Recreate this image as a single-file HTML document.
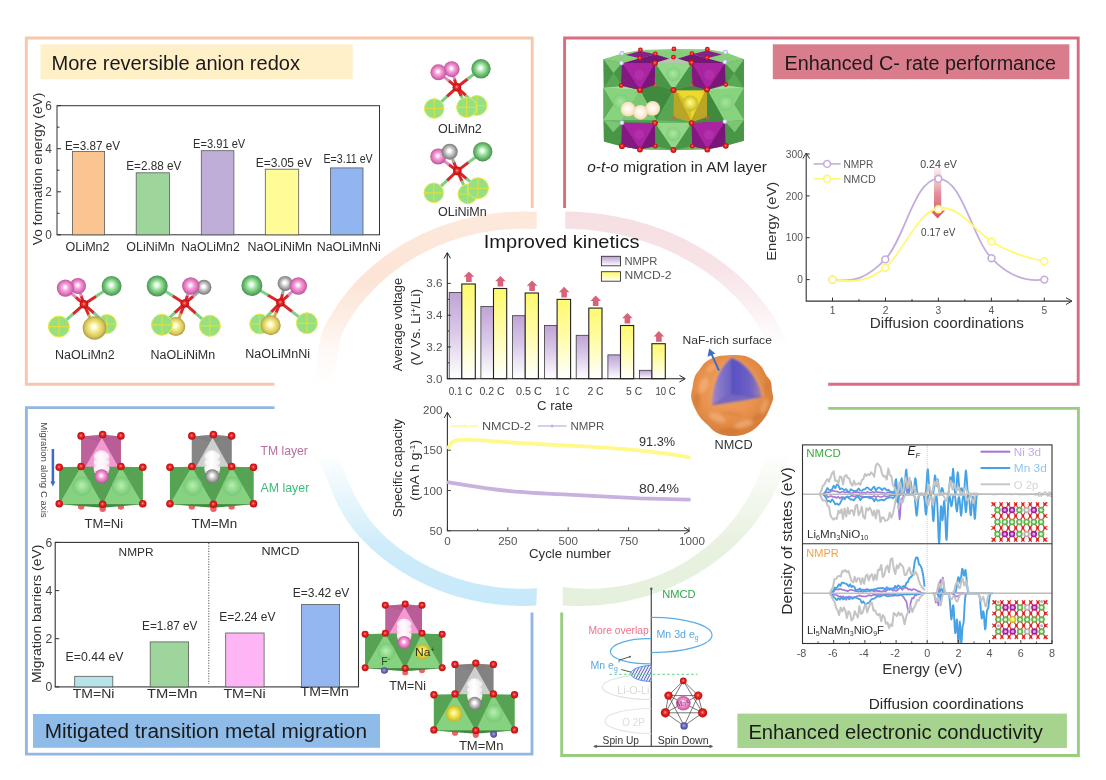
<!DOCTYPE html>
<html><head><meta charset="utf-8"><title>figure</title>
<style>html,body{margin:0;padding:0;background:#fff;}svg{display:block;will-change:transform;}text{font-family:"Liberation Sans",sans-serif;}</style></head>
<body>
<svg width="1106" height="780" viewBox="0 0 1106 780" font-family="'Liberation Sans', sans-serif">
<defs><radialGradient id="gPink" cx="0.5" cy="0.5" r="0.55" fx="0.47" fy="0.44"><stop offset="0" stop-color="#ffffff"/><stop offset="0.12" stop-color="#fff4fb"/><stop offset="0.36" stop-color="#f7a4dc"/><stop offset="0.68" stop-color="#e272ba"/><stop offset="1" stop-color="#a0508a"/></radialGradient><radialGradient id="gGreen" cx="0.5" cy="0.5" r="0.55" fx="0.47" fy="0.44"><stop offset="0" stop-color="#ffffff"/><stop offset="0.12" stop-color="#f2fff2"/><stop offset="0.36" stop-color="#a8e4aa"/><stop offset="0.68" stop-color="#64ba6a"/><stop offset="1" stop-color="#467e4e"/></radialGradient><radialGradient id="gGrey" cx="0.5" cy="0.5" r="0.55" fx="0.47" fy="0.44"><stop offset="0" stop-color="#ffffff"/><stop offset="0.15" stop-color="#ffffff"/><stop offset="0.4" stop-color="#d0d0d0"/><stop offset="0.7" stop-color="#9c9c9c"/><stop offset="1" stop-color="#666666"/></radialGradient><radialGradient id="gGold" cx="0.5" cy="0.5" r="0.55" fx="0.47" fy="0.44"><stop offset="0" stop-color="#ffffff"/><stop offset="0.14" stop-color="#ffffe8"/><stop offset="0.4" stop-color="#f2e884"/><stop offset="0.7" stop-color="#dac85c"/><stop offset="1" stop-color="#968642"/></radialGradient><radialGradient id="gRed" cx="0.5" cy="0.5" r="0.55" fx="0.47" fy="0.44"><stop offset="0" stop-color="#ff9a9a"/><stop offset="0.35" stop-color="#ee2a2a"/><stop offset="1" stop-color="#b00808"/></radialGradient><radialGradient id="gCream" cx="0.5" cy="0.5" r="0.55" fx="0.47" fy="0.44"><stop offset="0" stop-color="#ffffff"/><stop offset="0.5" stop-color="#fdf0dc"/><stop offset="1" stop-color="#f0d4a8"/></radialGradient><radialGradient id="gWhite" cx="0.5" cy="0.5" r="0.55" fx="0.47" fy="0.44"><stop offset="0" stop-color="#ffffff"/><stop offset="0.6" stop-color="#f6eef4"/><stop offset="1" stop-color="#dcc8d8"/></radialGradient><radialGradient id="gWhiteG" cx="0.5" cy="0.5" r="0.55" fx="0.47" fy="0.44"><stop offset="0" stop-color="#ffffff"/><stop offset="0.6" stop-color="#f0f0f0"/><stop offset="1" stop-color="#c8c8c8"/></radialGradient><radialGradient id="gLav" cx="0.5" cy="0.5" r="0.55" fx="0.47" fy="0.44"><stop offset="0" stop-color="#ffffff"/><stop offset="0.5" stop-color="#d8d8f4"/><stop offset="1" stop-color="#9c9cd0"/></radialGradient><radialGradient id="gBlueAt" cx="0.5" cy="0.5" r="0.55" fx="0.47" fy="0.44"><stop offset="0" stop-color="#a8a8e0"/><stop offset="0.5" stop-color="#6868b8"/><stop offset="1" stop-color="#40408c"/></radialGradient><radialGradient id="gYel" cx="0.5" cy="0.5" r="0.55" fx="0.47" fy="0.44"><stop offset="0" stop-color="#ffffc0"/><stop offset="0.4" stop-color="#f0e850"/><stop offset="1" stop-color="#b8a828"/></radialGradient><radialGradient id="gLGreen" cx="0.5" cy="0.5" r="0.55" fx="0.47" fy="0.44"><stop offset="0" stop-color="#c8f4c0"/><stop offset="0.6" stop-color="#8cd888"/><stop offset="1" stop-color="#6cc070"/></radialGradient><linearGradient id="rPeach" gradientUnits="userSpaceOnUse" x1="0" y1="212" x2="0" y2="385"><stop offset="0" stop-color="#fde9dc" stop-opacity="1"/><stop offset="0.4" stop-color="#fce4d6" stop-opacity="1"/><stop offset="0.62" stop-color="#fce4d6" stop-opacity="0.62"/><stop offset="0.8" stop-color="#fce4d6" stop-opacity="0.22"/><stop offset="1" stop-color="#fce4d6" stop-opacity="0"/></linearGradient><linearGradient id="rPink" gradientUnits="userSpaceOnUse" x1="0" y1="212" x2="0" y2="345"><stop offset="0" stop-color="#f6dfe3" stop-opacity="1"/><stop offset="0.4" stop-color="#f7e1e5" stop-opacity="0.95"/><stop offset="0.72" stop-color="#f7e1e5" stop-opacity="0.5"/><stop offset="1" stop-color="#f7e1e5" stop-opacity="0"/></linearGradient><linearGradient id="rBlue" gradientUnits="userSpaceOnUse" x1="0" y1="606" x2="0" y2="452"><stop offset="0" stop-color="#c6e9fa" stop-opacity="1"/><stop offset="0.4" stop-color="#cfecfa" stop-opacity="1"/><stop offset="0.72" stop-color="#d6effb" stop-opacity="0.55"/><stop offset="1" stop-color="#d6effb" stop-opacity="0"/></linearGradient><linearGradient id="rGreen" gradientUnits="userSpaceOnUse" x1="0" y1="606" x2="0" y2="450"><stop offset="0" stop-color="#e5f0dc" stop-opacity="1"/><stop offset="0.4" stop-color="#e7f1df" stop-opacity="0.95"/><stop offset="0.72" stop-color="#e7f1df" stop-opacity="0.5"/><stop offset="1" stop-color="#e7f1df" stop-opacity="0"/></linearGradient><linearGradient id="gArr" x1="0" y1="0" x2="0" y2="1"><stop offset="0" stop-color="#f2c4cc" stop-opacity="0.3"/><stop offset="0.5" stop-color="#e58f9c"/><stop offset="1" stop-color="#d55868"/></linearGradient><linearGradient id="gCol" x1="0" y1="0" x2="1" y2="0"><stop offset="0" stop-color="#f0c4e2"/><stop offset="0.45" stop-color="#fff4fb"/><stop offset="1" stop-color="#eebfdf"/></linearGradient><linearGradient id="gColG" x1="0" y1="0" x2="1" y2="0"><stop offset="0" stop-color="#dcdcdc"/><stop offset="0.45" stop-color="#ffffff"/><stop offset="1" stop-color="#d4d4d4"/></linearGradient><pattern id="hatch" width="2.6" height="2.6" patternUnits="userSpaceOnUse" patternTransform="rotate(-62)"><rect width="2.6" height="2.6" fill="#eef0ff"/><path d="M0 1.3H2.6" stroke="#5a58c8" stroke-width="0.9"/></pattern><linearGradient id="gPurB" x1="0" y1="0" x2="0" y2="1"><stop offset="0" stop-color="#bfa3d6"/><stop offset="0.45" stop-color="#d9c8e8"/><stop offset="1" stop-color="#ffffff"/></linearGradient><linearGradient id="gYelB" x1="0" y1="0" x2="0" y2="1"><stop offset="0" stop-color="#fffa6e"/><stop offset="0.45" stop-color="#fffca6"/><stop offset="1" stop-color="#ffffff"/></linearGradient><radialGradient id="gOrg" cx="0.45" cy="0.42" r="0.62"><stop offset="0" stop-color="#f0a266"/><stop offset="0.55" stop-color="#e9934e"/><stop offset="1" stop-color="#d27a36"/></radialGradient><linearGradient id="gCoreL" gradientUnits="userSpaceOnUse" x1="215" y1="0" x2="320" y2="0"><stop offset="0" stop-color="#b08ab0"/><stop offset="0.3" stop-color="#8d7cc8"/><stop offset="1" stop-color="#6a60c6"/></linearGradient><linearGradient id="gCoreR" gradientUnits="userSpaceOnUse" x1="320" y1="0" x2="485" y2="0"><stop offset="0" stop-color="#574fc4"/><stop offset="0.6" stop-color="#6f62c4"/><stop offset="0.88" stop-color="#9a7cb0"/><stop offset="1" stop-color="#c88c78"/></linearGradient><filter id="blur3" x="-10%" y="-10%" width="120%" height="120%"><feGaussianBlur stdDeviation="4"/></filter><filter id="blur5" x="-10%" y="-10%" width="120%" height="120%"><feGaussianBlur stdDeviation="6"/></filter><filter id="blur6" x="-20%" y="-20%" width="140%" height="140%"><feGaussianBlur stdDeviation="7"/></filter></defs>
<rect width="1106" height="780" fill="#ffffff"/>
<path d="M536.7 211.9L531.6 211.7L526.5 211.6L521.4 211.6L516.3 211.7L511.2 211.9L506.1 212.2L501.0 212.6L495.9 213.2L490.9 213.8L485.8 214.6L480.8 215.4L475.8 216.4L470.8 217.4L465.9 218.6L461.0 219.8L456.1 221.2L451.3 222.7L446.5 224.3L441.7 225.9L437.0 227.7L432.4 229.6L427.7 231.5L423.2 233.6L418.7 235.7L414.2 238.0L409.8 240.3L405.5 242.8L401.2 245.3L397.0 247.9L392.9 250.6L388.8 253.4L384.8 256.2L380.9 259.2L377.1 262.2L373.3 265.3L369.7 268.5L366.1 271.8L362.6 275.1L359.2 278.5L355.8 282.0L352.6 285.6L349.5 289.2L346.4 292.9L343.5 296.6L340.6 300.4L337.8 304.3L335.2 308.2L332.6 312.2L330.2 316.2L327.8 320.3L325.6 324.4L323.6 328.6L322.0 332.8L320.8 337.0L319.8 341.3L319.1 345.6L318.5 350.0L318.1 354.4L317.6 358.8L317.0 363.3L316.2 367.8L315.3 372.3L314.4 376.8L313.6 381.3L313.0 385.9L312.4 390.4L312.0 395.0L311.7 399.6L311.6 404.2L311.5 408.8L330.5 408.8L330.6 404.5L330.7 400.3L331.0 396.1L331.4 391.9L331.9 387.7L332.5 383.5L333.2 379.4L334.0 375.2L334.9 371.1L335.9 367.0L336.6 362.9L337.2 358.8L337.8 354.8L338.4 350.8L339.0 346.8L339.8 342.9L340.7 339.0L341.9 335.1L343.3 331.3L345.1 327.5L347.1 323.7L349.4 320.1L351.8 316.4L354.2 312.8L356.7 309.3L359.4 305.8L362.1 302.4L364.9 299.0L367.8 295.7L370.8 292.4L373.8 289.2L377.0 286.1L380.2 283.1L383.5 280.1L386.9 277.2L390.3 274.3L393.8 271.6L397.4 268.9L401.1 266.3L404.8 263.7L408.6 261.3L412.5 258.9L416.4 256.6L420.4 254.4L424.4 252.3L428.5 250.2L432.7 248.3L436.8 246.4L441.1 244.6L445.4 242.9L449.7 241.3L454.1 239.8L458.5 238.4L462.9 237.1L467.4 235.9L471.9 234.8L476.4 233.7L481.0 232.8L485.5 232.0L490.1 231.2L494.8 230.6L499.4 230.0L504.0 229.6L508.7 229.2L513.4 229.0L518.0 228.8L522.7 228.8L527.4 228.8L532.0 228.9L536.7 229.2Z" fill="url(#rPeach)"/>
<path d="M536.3 605.6L531.2 605.8L526.1 605.9L521.0 605.9L515.9 605.8L510.8 605.6L505.7 605.3L500.7 604.8L495.6 604.3L490.6 603.6L485.6 602.9L480.6 602.0L475.7 601.1L470.8 600.0L465.9 598.8L461.0 597.6L456.2 596.2L451.4 594.7L446.7 593.2L442.0 591.5L437.4 589.7L432.8 587.8L428.3 585.9L423.8 583.8L419.4 581.6L415.0 579.4L410.7 577.1L406.5 574.6L402.3 572.1L398.2 569.5L394.2 566.8L390.3 564.0L386.4 561.1L382.6 558.2L378.9 555.2L375.3 552.0L371.7 548.9L368.3 545.6L364.9 542.3L361.6 538.8L358.3 535.4L355.3 531.8L352.4 528.2L349.7 524.5L347.1 520.8L344.7 517.0L342.4 513.1L340.3 509.2L338.2 505.2L336.3 501.2L334.4 497.1L332.6 493.0L330.9 488.9L329.1 484.7L327.4 480.4L325.7 476.1L324.0 471.8L322.4 467.4L321.0 463.0L319.6 458.6L318.4 454.2L317.3 449.7L316.3 445.2L315.4 440.7L314.6 436.2L314.0 431.6L313.4 427.1L313.0 422.5L312.7 417.9L312.6 413.3L312.5 408.8L331.5 408.8L331.6 413.0L331.7 417.2L332.0 421.4L332.4 425.6L332.9 429.8L333.5 433.9L334.2 438.1L335.0 442.2L335.9 446.4L336.9 450.5L338.1 454.6L339.3 458.6L340.7 462.6L342.1 466.7L343.7 470.6L345.3 474.6L347.0 478.5L348.8 482.3L350.5 486.1L352.3 489.9L354.1 493.7L356.0 497.4L357.9 501.0L359.9 504.6L362.0 508.1L364.1 511.6L366.4 515.0L368.8 518.4L371.3 521.7L374.0 525.0L376.8 528.1L379.7 531.3L382.7 534.3L385.9 537.3L389.2 540.2L392.6 543.0L396.0 545.8L399.5 548.5L403.0 551.1L406.7 553.7L410.4 556.1L414.1 558.5L417.9 560.8L421.8 563.0L425.8 565.1L429.8 567.2L433.8 569.1L437.9 571.0L442.1 572.8L446.3 574.5L450.6 576.1L454.9 577.6L459.2 579.0L463.6 580.3L468.0 581.5L472.5 582.7L476.9 583.7L481.5 584.6L486.0 585.5L490.6 586.2L495.1 586.9L499.7 587.4L504.4 587.9L509.0 588.3L513.7 588.5L518.3 588.7L523.0 588.7L527.6 588.7L532.3 588.6L537.0 588.3Z" fill="url(#rBlue)"/>
<path d="M565.2 211.6L570.5 211.6L575.8 211.8L581.1 212.1L586.4 212.5L591.7 213.0L596.9 213.6L602.2 214.2L607.4 215.0L612.6 215.9L617.8 216.8L622.9 217.9L628.1 219.1L633.2 220.3L638.2 221.7L643.2 223.1L648.2 224.6L653.1 226.2L658.0 228.0L662.9 229.8L667.7 231.6L672.4 233.6L677.1 235.7L681.7 237.8L686.3 240.1L690.8 242.4L695.3 244.8L699.6 247.3L704.0 249.9L708.2 252.5L712.4 255.2L716.5 258.0L720.5 260.9L724.4 263.8L728.3 266.9L732.1 270.0L735.8 273.1L739.4 276.3L742.9 279.6L746.3 283.0L749.7 286.4L752.9 289.9L756.1 293.4L759.1 297.0L762.1 300.7L764.9 304.4L767.7 308.1L770.4 312.0L772.9 315.8L775.4 319.7L777.7 323.7L779.9 327.6L782.1 331.7L784.1 335.7L786.0 339.8L787.8 344.0L789.5 348.2L791.1 352.4L792.5 356.6L793.9 360.8L795.1 365.1L796.2 369.4L797.2 373.7L798.1 378.1L798.9 382.4L799.5 386.8L800.1 391.2L800.5 395.6L800.8 400.0L800.9 404.4L801.0 408.8L783.0 408.8L782.9 404.7L782.8 400.7L782.5 396.7L782.1 392.7L781.6 388.7L781.0 384.7L780.3 380.8L779.5 376.8L778.6 372.9L777.6 368.9L776.4 365.0L775.2 361.2L773.8 357.3L772.4 353.5L770.8 349.7L769.1 345.9L767.4 342.1L765.5 338.4L763.6 334.8L761.5 331.1L759.3 327.5L757.1 324.0L754.7 320.4L752.2 317.0L749.7 313.5L747.1 310.1L744.3 306.8L741.5 303.5L738.6 300.3L735.6 297.1L732.5 294.0L729.3 290.9L726.1 287.9L722.8 285.0L719.3 282.1L715.8 279.3L712.3 276.5L708.6 273.8L704.9 271.2L701.1 268.7L697.3 266.2L693.4 263.8L689.4 261.4L685.3 259.2L681.2 257.0L677.1 254.8L672.9 252.8L668.6 250.8L664.2 248.9L659.9 247.1L655.4 245.4L651.0 243.8L646.4 242.2L641.9 240.7L637.3 239.3L632.7 238.0L628.0 236.8L623.3 235.6L618.6 234.6L613.8 233.6L609.0 232.7L604.2 231.9L599.4 231.2L594.5 230.6L589.7 230.1L584.8 229.6L579.9 229.3L575.0 229.0L570.1 228.8L565.2 228.8Z" fill="url(#rPink)"/>
<path d="M562.7 605.4L567.8 605.7L572.8 605.9L577.9 605.9L583.0 605.9L588.1 605.8L593.2 605.5L598.2 605.2L603.3 604.7L608.3 604.1L613.3 603.4L618.3 602.7L623.3 601.8L628.3 600.7L633.2 599.6L638.1 598.4L643.0 597.1L647.8 595.7L652.6 594.1L657.4 592.5L662.1 590.8L666.8 588.9L671.4 587.0L675.9 585.0L680.4 582.8L684.9 580.6L689.3 578.3L693.6 575.9L697.9 573.4L702.1 570.8L706.3 568.1L710.3 565.3L714.3 562.4L718.2 559.5L722.1 556.5L725.9 553.4L729.5 550.2L733.1 546.9L736.7 543.5L740.1 540.1L743.4 536.6L746.7 533.1L749.8 529.4L752.9 525.7L755.9 522.0L758.7 518.1L761.5 514.2L764.2 510.3L766.7 506.3L769.2 502.2L771.5 498.1L773.8 494.0L775.9 489.8L778.0 485.5L779.9 481.2L781.7 476.9L783.4 472.5L785.0 468.1L786.5 463.7L787.8 459.2L789.1 454.7L790.2 450.2L791.2 445.6L792.1 441.1L792.9 436.5L793.5 431.9L794.0 427.3L794.5 422.7L794.8 418.0L794.9 413.4L795.0 408.8L772.0 408.8L771.9 413.2L771.8 417.6L771.5 422.0L771.1 426.4L770.6 430.7L770.0 435.1L769.3 439.5L768.5 443.8L767.6 448.1L766.5 452.4L765.4 456.7L764.1 460.9L762.8 465.1L761.3 469.3L759.8 473.4L758.1 477.5L756.4 481.6L754.5 485.6L752.5 489.5L750.5 493.5L748.3 497.3L746.1 501.1L743.7 504.9L741.3 508.6L738.7 512.2L736.1 515.8L733.4 519.3L730.6 522.8L727.7 526.1L724.8 529.5L721.7 532.7L718.6 535.9L715.4 538.9L712.1 541.9L708.7 544.9L705.3 547.7L701.8 550.5L698.3 553.1L694.6 555.7L690.9 558.2L687.2 560.7L683.4 563.0L679.5 565.2L675.6 567.3L671.6 569.4L667.6 571.3L663.5 573.2L659.4 574.9L655.2 576.6L651.0 578.1L646.8 579.5L642.5 580.9L638.2 582.1L633.9 583.3L629.5 584.3L625.1 585.2L620.7 586.0L616.3 586.7L611.9 587.3L607.4 587.8L602.9 588.2L598.5 588.5L594.0 588.7L589.5 588.7L585.0 588.7L580.5 588.6L576.1 588.3L571.6 587.9L567.1 587.5L562.7 586.9Z" fill="url(#rGreen)"/>
<path d="M532.2 208V38H26.3V384.2H274.5" fill="none" stroke="#f6c7ab" stroke-width="2.9"/>
<path d="M564.6 208V38H1078.2V384.2H828.2" fill="none" stroke="#d96d80" stroke-width="2.9"/>
<path d="M274.5 407.6H26.4V754.1H532V612.6" fill="none" stroke="#92b7e2" stroke-width="2.9"/>
<path d="M828.2 408.4H1078.4V755.5H561.7V612.6" fill="none" stroke="#98cd80" stroke-width="2.9"/>
<rect x="40.5" y="44.5" width="312.2" height="34.8" fill="#fff0c8"/>
<text x="51.5" y="69.6" font-size="19.5" fill="#1a1a1a" textLength="248.5" lengthAdjust="spacingAndGlyphs" >More reversible anion redox</text>
<rect x="772.8" y="44.3" width="296.6" height="34.9" fill="#d97c8b"/>
<text x="784.5" y="70.3" font-size="19.5" fill="#1a1a1a" textLength="271.5" lengthAdjust="spacingAndGlyphs" >Enhanced C- rate performance</text>
<rect x="33" y="714" width="347" height="33.8" fill="#8fbbe8"/>
<text x="44.7" y="738.1" font-size="19.5" fill="#1a1a1a" textLength="322.3" lengthAdjust="spacingAndGlyphs" >Mitigated transition metal migration</text>
<rect x="737.4" y="713.6" width="329.5" height="34.4" fill="#a6d48f"/>
<text x="748.4" y="738.7" font-size="19.5" fill="#1a1a1a" textLength="294.4" lengthAdjust="spacingAndGlyphs" >Enhanced electronic conductivity</text>
<rect x="57.0" y="105.7" width="322.5" height="129.10000000000002" fill="none" stroke="#333333" stroke-width="1"/>
<path d="M57.0 234.8h4M57.0 213.3h2.5M57.0 191.8h4M57.0 170.2h2.5M57.0 148.7h4M57.0 127.2h2.5M57.0 105.7h4" stroke="#333333" stroke-width="1" fill="none"/>
<text x="45.2" y="239.1" font-size="12.4" fill="#444" textLength="6.6" lengthAdjust="spacingAndGlyphs" >0</text>
<text x="45.2" y="196.1" font-size="12.4" fill="#444" textLength="6.6" lengthAdjust="spacingAndGlyphs" >2</text>
<text x="45.2" y="153.0" font-size="12.4" fill="#444" textLength="6.6" lengthAdjust="spacingAndGlyphs" >4</text>
<text x="45.2" y="110.0" font-size="12.4" fill="#444" textLength="6.6" lengthAdjust="spacingAndGlyphs" >6</text>
<text transform="translate(41.6,169.0) rotate(-90)" font-size="13.3" fill="#2e2e2e" text-anchor="middle" textLength="152.5" lengthAdjust="spacingAndGlyphs" >Vo formation energy (eV)</text>
<rect x="72.4" y="151.5" width="32.2" height="83.3" fill="#fbc591" stroke="#5a5a5a" stroke-width="0.8"/>
<rect x="136.2" y="172.8" width="33.2" height="62.0" fill="#9dd59b" stroke="#5a5a5a" stroke-width="0.8"/>
<rect x="201.3" y="150.7" width="32.6" height="84.1" fill="#bfaed7" stroke="#5a5a5a" stroke-width="0.8"/>
<rect x="265.3" y="169.2" width="33.4" height="65.6" fill="#fffb97" stroke="#5a5a5a" stroke-width="0.8"/>
<rect x="330.4" y="167.9" width="32.6" height="66.9" fill="#90b5f1" stroke="#5a5a5a" stroke-width="0.8"/>
<text x="65.0" y="149.7" font-size="12.6" fill="#2e2e2e" textLength="55.0" lengthAdjust="spacingAndGlyphs" >E=3.87 eV</text>
<text x="126.3" y="170.0" font-size="12.6" fill="#2e2e2e" textLength="55.0" lengthAdjust="spacingAndGlyphs" >E=2.88 eV</text>
<text x="193.0" y="148.0" font-size="12.6" fill="#2e2e2e" textLength="52.3" lengthAdjust="spacingAndGlyphs" >E=3.91 eV</text>
<text x="255.7" y="166.7" font-size="12.6" fill="#2e2e2e" textLength="56.3" lengthAdjust="spacingAndGlyphs" >E=3.05 eV</text>
<text x="323.5" y="163.0" font-size="12.6" fill="#2e2e2e" textLength="49.2" lengthAdjust="spacingAndGlyphs" >E=3.11 eV</text>
<text x="65.6" y="251.3" font-size="12" fill="#2e2e2e" textLength="44.0" lengthAdjust="spacingAndGlyphs" >OLiMn2</text>
<text x="126.3" y="251.3" font-size="12" fill="#2e2e2e" textLength="48.4" lengthAdjust="spacingAndGlyphs" >OLiNiMn</text>
<text x="181.3" y="251.3" font-size="12" fill="#2e2e2e" textLength="58.4" lengthAdjust="spacingAndGlyphs" >NaOLiMn2</text>
<text x="247.6" y="251.3" font-size="12" fill="#2e2e2e" textLength="64.4" lengthAdjust="spacingAndGlyphs" >NaOLiNiMn</text>
<text x="316.7" y="251.3" font-size="12" fill="#2e2e2e" textLength="64.1" lengthAdjust="spacingAndGlyphs" >NaOLiMnNi</text>
<path d="M456.9 87.3L465.5 95.1" stroke="#d8262a" stroke-width="3.0" stroke-linecap="round"/>
<path d="M465.5 95.1L477.0 105.5" stroke="#7fcf86" stroke-width="3.0"/>
<path d="M456.9 87.3L461.1 95.9" stroke="#d8262a" stroke-width="3.0" stroke-linecap="round"/>
<path d="M461.1 95.9L466.6 107.4" stroke="#7fcf86" stroke-width="3.0"/>
<path d="M456.9 87.3L447.1 96.4" stroke="#d8262a" stroke-width="3.0" stroke-linecap="round"/>
<path d="M447.1 96.4L434.2 108.5" stroke="#7fcf86" stroke-width="3.0"/>
<path d="M456.9 87.3L454.6 79.5" stroke="#d8262a" stroke-width="3.0" stroke-linecap="round"/>
<path d="M454.6 79.5L451.6 69.2" stroke="#e48cc4" stroke-width="3.0"/>
<path d="M456.9 87.3L448.9 80.8" stroke="#d8262a" stroke-width="3.0" stroke-linecap="round"/>
<path d="M448.9 80.8L438.4 72.3" stroke="#e48cc4" stroke-width="3.0"/>
<path d="M456.9 87.3L467.3 79.3" stroke="#d8262a" stroke-width="3.0" stroke-linecap="round"/>
<path d="M467.3 79.3L481.0 68.8" stroke="#7fcf86" stroke-width="3.0"/>
<g><circle cx="477.0" cy="105.5" r="10.0" fill="#94e082" stroke="#e8ec4c" stroke-width="1"/><path d="M467.0 105.5H487.0M477.0 95.5V115.5" stroke="#e4de38" stroke-width="1.15" fill="none"/></g>
<g><circle cx="466.6" cy="107.4" r="10.0" fill="#94e082" stroke="#e8ec4c" stroke-width="1"/><path d="M456.6 107.4H476.6M466.6 97.4V117.4" stroke="#e4de38" stroke-width="1.15" fill="none"/></g>
<g><circle cx="434.2" cy="108.5" r="9.8" fill="#94e082" stroke="#e8ec4c" stroke-width="1"/><path d="M424.4 108.5H444.0M434.2 98.7V118.3" stroke="#e4de38" stroke-width="1.15" fill="none"/></g>
<circle cx="451.6" cy="69.2" r="8.0" fill="url(#gPink)"/>
<circle cx="438.4" cy="72.3" r="8.0" fill="url(#gPink)"/>
<circle cx="481.0" cy="68.8" r="9.7" fill="url(#gGreen)"/>
<circle cx="456.9" cy="87.3" r="4.3" fill="url(#gRed)"/>
<text x="438.0" y="133.0" font-size="12" fill="#2e2e2e" textLength="43.8" lengthAdjust="spacingAndGlyphs" >OLiMn2</text>
<path d="M457.3 170.9L461.8 180.8" stroke="#d8262a" stroke-width="3.0" stroke-linecap="round"/>
<path d="M461.8 180.8L467.7 194.0" stroke="#7fcf86" stroke-width="3.0"/>
<path d="M457.3 170.9L466.2 178.3" stroke="#d8262a" stroke-width="3.0" stroke-linecap="round"/>
<path d="M466.2 178.3L478.0 188.2" stroke="#7fcf86" stroke-width="3.0"/>
<path d="M457.3 170.9L447.2 180.3" stroke="#d8262a" stroke-width="3.0" stroke-linecap="round"/>
<path d="M447.2 180.3L433.8 192.8" stroke="#7fcf86" stroke-width="3.0"/>
<path d="M457.3 170.9L449.1 164.7" stroke="#d8262a" stroke-width="3.0" stroke-linecap="round"/>
<path d="M449.1 164.7L438.2 156.5" stroke="#e48cc4" stroke-width="3.0"/>
<path d="M457.3 170.9L454.0 162.6" stroke="#d8262a" stroke-width="3.0" stroke-linecap="round"/>
<path d="M454.0 162.6L449.7 151.7" stroke="#a8a8a8" stroke-width="3.0"/>
<path d="M457.3 170.9L468.2 162.6" stroke="#d8262a" stroke-width="3.0" stroke-linecap="round"/>
<path d="M468.2 162.6L482.7 151.7" stroke="#7fcf86" stroke-width="3.0"/>
<g><circle cx="467.7" cy="194.0" r="9.7" fill="#94e082" stroke="#e8ec4c" stroke-width="1"/><path d="M458.0 194.0H477.4M467.7 184.3V203.7" stroke="#e4de38" stroke-width="1.15" fill="none"/></g>
<g><circle cx="478.0" cy="188.2" r="10.5" fill="#94e082" stroke="#e8ec4c" stroke-width="1"/><path d="M467.5 188.2H488.5M478.0 177.7V198.7" stroke="#e4de38" stroke-width="1.15" fill="none"/></g>
<g><circle cx="433.8" cy="192.8" r="9.8" fill="#94e082" stroke="#e8ec4c" stroke-width="1"/><path d="M424.0 192.8H443.6M433.8 183.0V202.6" stroke="#e4de38" stroke-width="1.15" fill="none"/></g>
<circle cx="438.2" cy="156.5" r="8.0" fill="url(#gPink)"/>
<circle cx="449.7" cy="151.7" r="8.0" fill="url(#gGrey)"/>
<circle cx="482.7" cy="151.7" r="9.7" fill="url(#gGreen)"/>
<circle cx="457.3" cy="170.9" r="4.3" fill="url(#gRed)"/>
<text x="438.0" y="215.8" font-size="12" fill="#2e2e2e" textLength="48.8" lengthAdjust="spacingAndGlyphs" >OLiNiMn</text>
<path d="M84.0 304.3L93.8 312.8" stroke="#d8262a" stroke-width="3.0" stroke-linecap="round"/>
<path d="M93.8 312.8L106.9 324.0" stroke="#7fcf86" stroke-width="3.0"/>
<path d="M84.0 304.3L73.2 313.9" stroke="#d8262a" stroke-width="3.0" stroke-linecap="round"/>
<path d="M73.2 313.9L58.9 326.6" stroke="#7fcf86" stroke-width="3.0"/>
<path d="M84.0 304.3L88.5 314.5" stroke="#d8262a" stroke-width="3.0" stroke-linecap="round"/>
<path d="M88.5 314.5L94.5 328.0" stroke="#c8b450" stroke-width="3.0"/>
<path d="M84.0 304.3L81.4 296.4" stroke="#d8262a" stroke-width="3.0" stroke-linecap="round"/>
<path d="M81.4 296.4L78.0 286.0" stroke="#e48cc4" stroke-width="3.0"/>
<path d="M84.0 304.3L76.0 297.3" stroke="#d8262a" stroke-width="3.0" stroke-linecap="round"/>
<path d="M76.0 297.3L65.4 288.1" stroke="#e48cc4" stroke-width="3.0"/>
<path d="M84.0 304.3L95.9 296.4" stroke="#d8262a" stroke-width="3.0" stroke-linecap="round"/>
<path d="M95.9 296.4L111.6 286.0" stroke="#7fcf86" stroke-width="3.0"/>
<g><circle cx="106.9" cy="324.0" r="9.5" fill="#94e082" stroke="#e8ec4c" stroke-width="1"/><path d="M97.4 324.0H116.4M106.9 314.5V333.5" stroke="#e4de38" stroke-width="1.15" fill="none"/></g>
<g><circle cx="58.9" cy="326.6" r="10.5" fill="#94e082" stroke="#e8ec4c" stroke-width="1"/><path d="M48.4 326.6H69.4M58.9 316.1V337.1" stroke="#e4de38" stroke-width="1.15" fill="none"/></g>
<circle cx="94.5" cy="328.0" r="11.8" fill="url(#gGold)"/>
<circle cx="78.0" cy="286.0" r="8.0" fill="url(#gPink)"/>
<circle cx="65.4" cy="288.1" r="8.6" fill="url(#gPink)"/>
<circle cx="111.6" cy="286.0" r="10.0" fill="url(#gGreen)"/>
<circle cx="84.0" cy="304.3" r="4.3" fill="url(#gRed)"/>
<text x="55.0" y="358.5" font-size="12" fill="#2e2e2e" textLength="59.7" lengthAdjust="spacingAndGlyphs" >NaOLiMn2</text>
<path d="M184.7 303.5L180.9 313.4" stroke="#d8262a" stroke-width="3.0" stroke-linecap="round"/>
<path d="M180.9 313.4L175.8 326.6" stroke="#c8b450" stroke-width="3.0"/>
<path d="M184.7 303.5L174.9 312.7" stroke="#d8262a" stroke-width="3.0" stroke-linecap="round"/>
<path d="M174.9 312.7L161.9 324.8" stroke="#7fcf86" stroke-width="3.0"/>
<path d="M184.7 303.5L195.5 313.1" stroke="#d8262a" stroke-width="3.0" stroke-linecap="round"/>
<path d="M195.5 313.1L209.9 325.8" stroke="#7fcf86" stroke-width="3.0"/>
<path d="M184.7 303.5L193.0 296.5" stroke="#d8262a" stroke-width="3.0" stroke-linecap="round"/>
<path d="M193.0 296.5L203.9 287.3" stroke="#a8a8a8" stroke-width="3.0"/>
<path d="M184.7 303.5L187.3 296.0" stroke="#d8262a" stroke-width="3.0" stroke-linecap="round"/>
<path d="M187.3 296.0L190.8 286.0" stroke="#e48cc4" stroke-width="3.0"/>
<path d="M184.7 303.5L172.9 296.0" stroke="#d8262a" stroke-width="3.0" stroke-linecap="round"/>
<path d="M172.9 296.0L157.2 286.0" stroke="#7fcf86" stroke-width="3.0"/>
<circle cx="175.8" cy="326.6" r="9.5" fill="url(#gGold)"/>
<g><circle cx="161.9" cy="324.8" r="10.5" fill="#94e082" stroke="#e8ec4c" stroke-width="1"/><path d="M151.4 324.8H172.4M161.9 314.3V335.3" stroke="#e4de38" stroke-width="1.15" fill="none"/></g>
<g><circle cx="209.9" cy="325.8" r="10.5" fill="#94e082" stroke="#e8ec4c" stroke-width="1"/><path d="M199.4 325.8H220.4M209.9 315.3V336.3" stroke="#e4de38" stroke-width="1.15" fill="none"/></g>
<circle cx="203.9" cy="287.3" r="7.5" fill="url(#gGrey)"/>
<circle cx="190.8" cy="286.0" r="8.7" fill="url(#gPink)"/>
<circle cx="157.2" cy="286.0" r="10.5" fill="url(#gGreen)"/>
<circle cx="184.7" cy="303.5" r="4.3" fill="url(#gRed)"/>
<text x="150.6" y="358.5" font-size="12" fill="#2e2e2e" textLength="64.5" lengthAdjust="spacingAndGlyphs" >NaOLiNiMn</text>
<path d="M280.4 302.5L271.5 311.7" stroke="#d8262a" stroke-width="3.0" stroke-linecap="round"/>
<path d="M271.5 311.7L259.7 324.0" stroke="#7fcf86" stroke-width="3.0"/>
<path d="M280.4 302.5L276.2 312.3" stroke="#d8262a" stroke-width="3.0" stroke-linecap="round"/>
<path d="M276.2 312.3L270.7 325.3" stroke="#c8b450" stroke-width="3.0"/>
<path d="M280.4 302.5L291.8 311.4" stroke="#d8262a" stroke-width="3.0" stroke-linecap="round"/>
<path d="M291.8 311.4L306.9 323.2" stroke="#7fcf86" stroke-width="3.0"/>
<path d="M280.4 302.5L282.4 294.3" stroke="#d8262a" stroke-width="3.0" stroke-linecap="round"/>
<path d="M282.4 294.3L285.1 283.4" stroke="#a8a8a8" stroke-width="3.0"/>
<path d="M280.4 302.5L288.1 295.4" stroke="#d8262a" stroke-width="3.0" stroke-linecap="round"/>
<path d="M288.1 295.4L298.3 286.0" stroke="#e48cc4" stroke-width="3.0"/>
<path d="M280.4 302.5L268.1 295.2" stroke="#d8262a" stroke-width="3.0" stroke-linecap="round"/>
<path d="M268.1 295.2L251.9 285.5" stroke="#7fcf86" stroke-width="3.0"/>
<g><circle cx="259.7" cy="324.0" r="10.0" fill="#94e082" stroke="#e8ec4c" stroke-width="1"/><path d="M249.7 324.0H269.7M259.7 314.0V334.0" stroke="#e4de38" stroke-width="1.15" fill="none"/></g>
<circle cx="270.7" cy="325.3" r="10.0" fill="url(#gGold)"/>
<g><circle cx="306.9" cy="323.2" r="10.5" fill="#94e082" stroke="#e8ec4c" stroke-width="1"/><path d="M296.4 323.2H317.4M306.9 312.7V333.7" stroke="#e4de38" stroke-width="1.15" fill="none"/></g>
<circle cx="285.1" cy="283.4" r="7.5" fill="url(#gGrey)"/>
<circle cx="298.3" cy="286.0" r="8.7" fill="url(#gPink)"/>
<circle cx="251.9" cy="285.5" r="10.5" fill="url(#gGreen)"/>
<circle cx="280.4" cy="302.5" r="4.3" fill="url(#gRed)"/>
<text x="245.3" y="357.8" font-size="12" fill="#2e2e2e" textLength="64.7" lengthAdjust="spacingAndGlyphs" >NaOLiMnNi</text>
<g transform="translate(595,40) scale(0.153846)">
<polygon points="55,125 175,100 848,95 968,125 968,655 850,688 730,712 510,716 292,712 172,690 58,660" fill="#6ab864" fill-opacity="1"/>
<polygon points="55,125 175,88 295,65 513,58 730,60 848,80 968,125 845,150 175,150" fill="#88cf7e" fill-opacity="1"/>
<polygon points="200,97 295,72 392,92 292,118" fill="#86208a" fill-opacity="1"/>
<polygon points="292,118 392,92 485,122 390,150 185,150" fill="#741878" fill-opacity="1"/>
<polygon points="630,92 730,68 825,95 728,118" fill="#86208a" fill-opacity="1"/>
<polygon points="535,122 630,92 728,118 838,150 630,150" fill="#741878" fill-opacity="1"/>
<polygon points="392,90 513,58 630,88 510,112" fill="#86cc7c" fill-opacity="1"/>
<polygon points="390,150 510,112 630,150" fill="#c0c4be" fill-opacity="0.75"/>
<polygon points="55,125 175,150 175,295 58,310" fill="#4a9648" fill-opacity="1"/>
<polygon points="55,125 175,150 120,215" fill="#92d888" fill-opacity="0.75"/>
<polygon points="58,310 175,295 120,215" fill="#5aa856" fill-opacity="1"/>
<polygon points="845,150 968,125 968,310 850,290" fill="#4a9648" fill-opacity="1"/>
<polygon points="845,150 968,125 905,215" fill="#92d888" fill-opacity="0.75"/>
<polygon points="968,310 850,290 905,215" fill="#5aa856" fill-opacity="1"/>
<polygon points="390,150 630,150 510,325" fill="#92d888" fill-opacity="1"/>
<polygon points="390,150 510,325 390,292" fill="#4a9648" fill-opacity="1"/>
<polygon points="630,150 510,325 630,295" fill="#4a9648" fill-opacity="1"/>
<polygon points="390,292 510,325 292,325" fill="#3f883e" fill-opacity="1"/>
<polygon points="630,295 510,325 730,325" fill="#3f883e" fill-opacity="1"/>
<polygon points="55,310 292,325 175,522 55,520" fill="#88d47e" fill-opacity="1"/>
<polygon points="55,310 175,300 292,325" fill="#b2e8a6" fill-opacity="0.8"/>
<polygon points="55,310 55,520 120,420" fill="#5eae5a" fill-opacity="1"/>
<polygon points="292,325 510,325 400,522" fill="#3f8a3e" fill-opacity="1"/>
<polygon points="292,325 400,522 175,522" fill="#7cc872" fill-opacity="1"/>
<polygon points="510,325 400,522 625,535" fill="#58a654" fill-opacity="1"/>
<polygon points="730,325 968,310 968,520 845,530" fill="#88d47e" fill-opacity="1"/>
<polygon points="730,325 850,295 968,310" fill="#b2e8a6" fill-opacity="0.8"/>
<polygon points="968,310 968,520 905,420" fill="#5eae5a" fill-opacity="1"/>
<polygon points="730,325 845,530 628,538" fill="#3f8a3e" fill-opacity="1"/>
<polygon points="512,328 728,326 728,500 625,536 512,500" fill="#b9a626" fill-opacity="1"/>
<polygon points="528,330 716,330 624,522" fill="#ecd92c" fill-opacity="1"/>
<polygon points="528,330 624,430 624,522" fill="#d6be22" fill-opacity="0.9"/>
<circle cx="620" cy="412" r="52" fill="url(#gYel)" fill-opacity="0.85"/>
<polygon points="55,520 175,538 172,690 58,660" fill="#4a9648" fill-opacity="1"/>
<polygon points="55,520 175,538 118,600" fill="#92d888" fill-opacity="0.7"/>
<polygon points="845,530 968,520 968,655 850,688" fill="#4a9648" fill-opacity="1"/>
<polygon points="845,530 968,520 908,600" fill="#92d888" fill-opacity="0.7"/>
<polygon points="390,540 628,540 510,716" fill="#92d888" fill-opacity="1"/>
<polygon points="390,540 510,716 392,690" fill="#4a9648" fill-opacity="1"/>
<polygon points="628,540 510,716 632,690" fill="#4a9648" fill-opacity="1"/>
<polygon points="175,522 400,522 390,540 175,538" fill="#4f9c4c" fill-opacity="1"/>
<polygon points="628,538 845,530 628,545" fill="#4f9c4c" fill-opacity="1"/>
<circle cx="510" cy="222" r="46" fill="url(#gLGreen)" fill-opacity="0.5"/>
<circle cx="510" cy="612" r="46" fill="url(#gLGreen)" fill-opacity="0.5"/>
<circle cx="168" cy="405" r="52" fill="url(#gLGreen)" fill-opacity="0.5"/>
<circle cx="850" cy="410" r="52" fill="url(#gLGreen)" fill-opacity="0.5"/>
<polygon points="175,150 390,150 390,292 292,325 172,295" fill="#7a1678"/>
<polygon points="175,150 390,150 292,325" fill="#a824a0"/>
<polygon points="175,150 292,325 172,295" fill="#821a80"/>
<circle cx="287.5" cy="227.5" r="32" fill="#c040b8" fill-opacity="0.4"/>
<polygon points="630,150 845,150 850,290 730,325 630,295" fill="#7a1678"/>
<polygon points="630,150 845,150 730,325" fill="#a824a0"/>
<polygon points="630,150 730,325 630,295" fill="#821a80"/>
<circle cx="742.5" cy="227.5" r="32" fill="#c040b8" fill-opacity="0.4"/>
<polygon points="175,538 390,540 392,690 292,712 172,690" fill="#7a1678"/>
<polygon points="175,538 390,540 292,712" fill="#a824a0"/>
<polygon points="175,538 292,712 172,690" fill="#821a80"/>
<circle cx="287.5" cy="615.0" r="32" fill="#c040b8" fill-opacity="0.4"/>
<polygon points="628,540 845,530 850,688 730,712 632,690" fill="#7a1678"/>
<polygon points="628,540 845,530 730,712" fill="#a824a0"/>
<polygon points="628,540 730,712 632,690" fill="#821a80"/>
<circle cx="741.5" cy="616.0" r="32" fill="#c040b8" fill-opacity="0.4"/>
<path d="M292,325l-40,28M292,325l45,25M510,325l-42,26M510,325l40,28M728,322l-40,28M728,322l42,26M513,505l-35,-25M513,505l38,-22M730,505l-36,-25M730,505l40,-22M392,295l-5,-50M630,293l5,-50M390,540l40,30M628,540l-40,30" stroke="#e0703c" stroke-opacity="0.5" stroke-width="3" fill="none"/>
<circle cx="215" cy="450" r="48" fill="url(#gCream)"/>
<circle cx="375" cy="445" r="48" fill="url(#gCream)"/>
<circle cx="295" cy="470" r="48" fill="url(#gCream)"/>
<circle cx="392" cy="295" r="10" fill="#e85048" fill-opacity="0.8"/>
<circle cx="630" cy="293" r="10" fill="#e85048" fill-opacity="0.8"/>
<circle cx="513" cy="505" r="10" fill="#e85048" fill-opacity="0.8"/>
<circle cx="730" cy="505" r="10" fill="#e85048" fill-opacity="0.8"/>
<circle cx="295" cy="65" r="15.5" fill="url(#gRed)"/>
<circle cx="513" cy="58" r="15.5" fill="url(#gRed)"/>
<circle cx="730" cy="60" r="15.5" fill="url(#gRed)"/>
<circle cx="392" cy="90" r="15.5" fill="url(#gRed)"/>
<circle cx="630" cy="88" r="15.5" fill="url(#gRed)"/>
<circle cx="292" cy="118" r="15.5" fill="url(#gRed)"/>
<circle cx="510" cy="112" r="15.5" fill="url(#gRed)"/>
<circle cx="728" cy="115" r="15.5" fill="url(#gRed)"/>
<circle cx="170" cy="295" r="15.5" fill="url(#gRed)"/>
<circle cx="850" cy="290" r="15.5" fill="url(#gRed)"/>
<circle cx="392" cy="690" r="15.5" fill="url(#gRed)"/>
<circle cx="632" cy="690" r="15.5" fill="url(#gRed)"/>
<circle cx="390" cy="150" r="19" fill="url(#gRed)"/>
<circle cx="628" cy="148" r="19" fill="url(#gRed)"/>
<circle cx="292" cy="325" r="19" fill="url(#gRed)"/>
<circle cx="510" cy="325" r="19" fill="url(#gRed)"/>
<circle cx="728" cy="322" r="19" fill="url(#gRed)"/>
<circle cx="390" cy="540" r="19" fill="url(#gRed)"/>
<circle cx="628" cy="540" r="19" fill="url(#gRed)"/>
<circle cx="175" cy="690" r="19" fill="url(#gRed)"/>
<circle cx="292" cy="712" r="19" fill="url(#gRed)"/>
<circle cx="510" cy="715" r="19" fill="url(#gRed)"/>
<circle cx="730" cy="712" r="19" fill="url(#gRed)"/>
<circle cx="850" cy="688" r="19" fill="url(#gRed)"/>
<circle cx="175" cy="88" r="16" fill="url(#gLav)"/>
<circle cx="848" cy="80" r="16" fill="url(#gLav)"/>
<circle cx="172" cy="150" r="16" fill="url(#gLav)"/>
<circle cx="845" cy="143" r="16" fill="url(#gLav)"/>
<circle cx="175" cy="538" r="16" fill="url(#gLav)"/>
<circle cx="845" cy="530" r="16" fill="url(#gLav)"/>
</g>
<text x="587.2" y="171.7" font-size="13.8" fill="#2a2a2a" textLength="179.8" lengthAdjust="spacingAndGlyphs"><tspan font-style="italic">o-t-o</tspan> migration in AM layer</text>
<path d="M806.2 153.4V301.1H1071" fill="none" stroke="#333333" stroke-width="1.1"/>
<path d="M802.9000000000001 158.6L806.2 153L809.5 158.6" fill="none" stroke="#333333" stroke-width="1"/>
<path d="M1066 297.70000000000005L1072 301.1L1066 304.5" fill="none" stroke="#333333" stroke-width="1"/>
<text x="802.8" y="283.2" font-size="10.2" fill="#555" text-anchor="end">0</text>
<text x="802.8" y="241.3" font-size="10.2" fill="#555" text-anchor="end">100</text>
<text x="802.8" y="199.5" font-size="10.2" fill="#555" text-anchor="end">200</text>
<text x="802.8" y="157.6" font-size="10.2" fill="#555" text-anchor="end">300</text>
<text x="832.5" y="313.8" font-size="10.2" fill="#555" text-anchor="middle">1</text>
<text x="885.5" y="313.8" font-size="10.2" fill="#555" text-anchor="middle">2</text>
<text x="938.4" y="313.8" font-size="10.2" fill="#555" text-anchor="middle">3</text>
<text x="991.4" y="313.8" font-size="10.2" fill="#555" text-anchor="middle">4</text>
<text x="1044.3" y="313.8" font-size="10.2" fill="#555" text-anchor="middle">5</text>
<path d="M806.2 279.6h3.5M806.2 237.7h3.5M806.2 195.9h3.5M806.2 154.0h3.5M832.5 301.1v-3.5M859.0 301.1v-2M885.5 301.1v-3.5M912.0 301.1v-2M938.4 301.1v-3.5M964.9 301.1v-2M991.4 301.1v-3.5M1017.9 301.1v-2M1044.3 301.1v-3.5" stroke="#333333" stroke-width="1" fill="none"/>
<text x="869.8" y="328.0" font-size="14.6" fill="#333" textLength="154.2" lengthAdjust="spacingAndGlyphs" >Diffusion coordinations</text>
<text transform="translate(775.8,221.3) rotate(-90)" font-size="13" fill="#2e2e2e" text-anchor="middle" textLength="79.0" lengthAdjust="spacingAndGlyphs" >Energy (eV)</text>
<path d="M934 168V210.5H930L937.6 218.4L945.2 210.5H941.2V168Z" fill="url(#gArr)"/>
<path d="M832.5 279.6C855 283,868 277,885.3 259.4C905 238,915 178,938.4 178.8C962 178,972 238,991.5 258.2C1008 276,1025 282,1044.3 279.6" fill="none" stroke="#c3addc" stroke-width="1.8"/>
<path d="M832.5 279.6C856 283,868 281,885.3 267.7C906 250,918 207,943 208C962 209,974 230,991.5 241.5C1010 253,1026 258,1044.3 261.2" fill="none" stroke="#fff872" stroke-width="1.8"/>
<circle cx="832.5" cy="279.6" r="3.4" fill="#fff" stroke="#c3addc" stroke-width="1.6"/>
<circle cx="885.3" cy="259.4" r="3.4" fill="#fff" stroke="#c3addc" stroke-width="1.6"/>
<circle cx="938.4" cy="178.8" r="3.4" fill="#fff" stroke="#c3addc" stroke-width="1.6"/>
<circle cx="991.5" cy="258.2" r="3.4" fill="#fff" stroke="#c3addc" stroke-width="1.6"/>
<circle cx="1044.3" cy="279.6" r="3.4" fill="#fff" stroke="#c3addc" stroke-width="1.6"/>
<circle cx="832.5" cy="279.6" r="3.4" fill="#fff" stroke="#fff872" stroke-width="1.6"/>
<circle cx="885.3" cy="267.7" r="3.4" fill="#fff" stroke="#fff872" stroke-width="1.6"/>
<circle cx="938.4" cy="209.2" r="3.4" fill="#fff" stroke="#fff872" stroke-width="1.6"/>
<circle cx="991.5" cy="241.5" r="3.4" fill="#fff" stroke="#fff872" stroke-width="1.6"/>
<circle cx="1044.3" cy="261.2" r="3.4" fill="#fff" stroke="#fff872" stroke-width="1.6"/>
<path d="M813.7 163.9H840.6" stroke="#c3addc" stroke-width="1.6"/><circle cx="827.1" cy="163.9" r="3.4" fill="#fff" stroke="#c3addc" stroke-width="1.6"/>
<path d="M813.7 178.8H840.6" stroke="#fff872" stroke-width="1.6"/><circle cx="827.1" cy="178.8" r="3.4" fill="#fff" stroke="#fff872" stroke-width="1.6"/>
<text x="843.5" y="167.8" font-size="10.4" fill="#555" textLength="29.9" lengthAdjust="spacingAndGlyphs" >NMPR</text>
<text x="843.5" y="182.7" font-size="10.4" fill="#555" textLength="32.3" lengthAdjust="spacingAndGlyphs" >NMCD</text>
<text x="920.2" y="168.3" font-size="10.5" fill="#444" textLength="36.8" lengthAdjust="spacingAndGlyphs" >0.24 eV</text>
<text x="921.1" y="236.4" font-size="10.5" fill="#444" textLength="34.3" lengthAdjust="spacingAndGlyphs" >0.17 eV</text>
<g transform="translate(20.00,400.00) scale(0.28029)">
<circle cx="218" cy="380" r="11.5" fill="#e54a4a" fill-opacity="0.85"/>
<circle cx="360" cy="380" r="11.5" fill="#e54a4a" fill-opacity="0.85"/>
<circle cx="295" cy="388" r="11.5" fill="#e54a4a" fill-opacity="0.85"/>
<polygon points="218,130 295,124 360,130 360,240 218,240" fill="#c76aa6"/>
<polygon points="218,130 295,124 360,130 289,152" fill="#b45a92" fill-opacity="0.7"/>
<polygon points="292,134 352,240 232,240" fill="#f39ad0"/>
<polygon points="218,130 292,134 232,240 218,240" fill="#b45a92" fill-opacity="0.5"/>
<polygon points="360,130 292,134 352,240 360,240" fill="#b45a92" fill-opacity="0.75"/>
<polygon points="140,240 438,240 438,372 295,380 140,372" fill="#66b262"/>
<polygon points="140,240 218,238 140,372" fill="#57a354"/>
<polygon points="218,238 295,372 140,372" fill="#86d280"/>
<polygon points="218,238 360,238 295,372" fill="#55a052"/>
<polygon points="360,238 438,372 295,372" fill="#86d280"/>
<polygon points="360,238 438,240 438,372" fill="#57a354"/>
<polygon points="140,372 295,372 438,372 295,384" fill="#3f8a3f"/>
<circle cx="222" cy="308" r="34" fill="url(#gLGreen)" fill-opacity="0.8"/>
<circle cx="362" cy="308" r="34" fill="url(#gLGreen)" fill-opacity="0.8"/>
<rect x="263" y="180" width="56" height="92" rx="24" fill="url(#gCol)"/>
<ellipse cx="291" cy="200" rx="28" ry="13" fill="#ffffff" fill-opacity="0.6"/>
<ellipse cx="291" cy="222" rx="28" ry="13" fill="#ffffff" fill-opacity="0.6"/>
<ellipse cx="291" cy="244" rx="28" ry="13" fill="#ffffff" fill-opacity="0.6"/>
<circle cx="291" cy="272" r="25" fill="url(#gPink)"/>
<circle cx="218" cy="128" r="13.5" fill="url(#gRed)"/>
<circle cx="295" cy="123" r="13.5" fill="url(#gRed)"/>
<circle cx="360" cy="128" r="13.5" fill="url(#gRed)"/>
<circle cx="140" cy="240" r="13.5" fill="url(#gRed)"/>
<circle cx="218" cy="237" r="13.5" fill="url(#gRed)"/>
<circle cx="360" cy="237" r="13.5" fill="url(#gRed)"/>
<circle cx="438" cy="240" r="13.5" fill="url(#gRed)"/>
<circle cx="140" cy="370" r="13.5" fill="url(#gRed)"/>
<circle cx="295" cy="372" r="13.5" fill="url(#gRed)"/>
<circle cx="438" cy="370" r="13.5" fill="url(#gRed)"/>
</g>
<g transform="translate(130.72,400.00) scale(0.28029)">
<circle cx="218" cy="380" r="11.5" fill="#e54a4a" fill-opacity="0.85"/>
<circle cx="360" cy="380" r="11.5" fill="#e54a4a" fill-opacity="0.85"/>
<circle cx="295" cy="388" r="11.5" fill="#e54a4a" fill-opacity="0.85"/>
<polygon points="218,130 295,124 360,130 360,240 218,240" fill="#8e8e8e"/>
<polygon points="218,130 295,124 360,130 289,152" fill="#7e7e7e" fill-opacity="0.7"/>
<polygon points="292,134 352,240 232,240" fill="#cfcfcf"/>
<polygon points="218,130 292,134 232,240 218,240" fill="#7e7e7e" fill-opacity="0.5"/>
<polygon points="360,130 292,134 352,240 360,240" fill="#7e7e7e" fill-opacity="0.75"/>
<polygon points="140,240 438,240 438,372 295,380 140,372" fill="#66b262"/>
<polygon points="140,240 218,238 140,372" fill="#57a354"/>
<polygon points="218,238 295,372 140,372" fill="#86d280"/>
<polygon points="218,238 360,238 295,372" fill="#55a052"/>
<polygon points="360,238 438,372 295,372" fill="#86d280"/>
<polygon points="360,238 438,240 438,372" fill="#57a354"/>
<polygon points="140,372 295,372 438,372 295,384" fill="#3f8a3f"/>
<circle cx="222" cy="308" r="34" fill="url(#gLGreen)" fill-opacity="0.8"/>
<circle cx="362" cy="308" r="34" fill="url(#gLGreen)" fill-opacity="0.8"/>
<rect x="263" y="180" width="56" height="92" rx="24" fill="url(#gColG)"/>
<ellipse cx="291" cy="200" rx="28" ry="13" fill="#ffffff" fill-opacity="0.6"/>
<ellipse cx="291" cy="222" rx="28" ry="13" fill="#ffffff" fill-opacity="0.6"/>
<ellipse cx="291" cy="244" rx="28" ry="13" fill="#ffffff" fill-opacity="0.6"/>
<circle cx="291" cy="272" r="25" fill="url(#gGrey)"/>
<circle cx="218" cy="128" r="13.5" fill="url(#gRed)"/>
<circle cx="295" cy="123" r="13.5" fill="url(#gRed)"/>
<circle cx="360" cy="128" r="13.5" fill="url(#gRed)"/>
<circle cx="140" cy="240" r="13.5" fill="url(#gRed)"/>
<circle cx="218" cy="237" r="13.5" fill="url(#gRed)"/>
<circle cx="360" cy="237" r="13.5" fill="url(#gRed)"/>
<circle cx="438" cy="240" r="13.5" fill="url(#gRed)"/>
<circle cx="140" cy="370" r="13.5" fill="url(#gRed)"/>
<circle cx="295" cy="372" r="13.5" fill="url(#gRed)"/>
<circle cx="438" cy="370" r="13.5" fill="url(#gRed)"/>
</g>
<text x="84.5" y="527.5" font-size="12" fill="#2e2e2e" textLength="38.6" lengthAdjust="spacingAndGlyphs" >TM=Ni</text>
<text x="191.5" y="527.5" font-size="12" fill="#2e2e2e" textLength="45.7" lengthAdjust="spacingAndGlyphs" >TM=Mn</text>
<text x="260.5" y="455.2" font-size="12.2" fill="#bb6e9f" textLength="47.4" lengthAdjust="spacingAndGlyphs" >TM layer</text>
<text x="260.5" y="491.7" font-size="12.2" fill="#3dbd7e" textLength="48.8" lengthAdjust="spacingAndGlyphs" >AM layer</text>
<path d="M52.9 449V483" stroke="#3d69c8" stroke-width="2.5"/><path d="M50.4 481.5L52.9 486.4L55.4 481.5Z" fill="#3d69c8"/>
<text transform="translate(40.6,470.0) rotate(90)" font-size="8.8" fill="#444" text-anchor="middle" textLength="95.3" lengthAdjust="spacingAndGlyphs" >Migration along  C axis</text>
<g transform="translate(328.95,572.10) scale(0.25850)">
<circle cx="218" cy="380" r="11.5" fill="#e54a4a" fill-opacity="0.85"/>
<circle cx="360" cy="380" r="11.5" fill="#e54a4a" fill-opacity="0.85"/>
<circle cx="295" cy="388" r="11.5" fill="#e54a4a" fill-opacity="0.85"/>
<polygon points="218,130 295,124 360,130 360,240 218,240" fill="#c76aa6"/>
<polygon points="218,130 295,124 360,130 289,152" fill="#b45a92" fill-opacity="0.7"/>
<polygon points="292,134 352,240 232,240" fill="#f39ad0"/>
<polygon points="218,130 292,134 232,240 218,240" fill="#b45a92" fill-opacity="0.5"/>
<polygon points="360,130 292,134 352,240 360,240" fill="#b45a92" fill-opacity="0.75"/>
<polygon points="140,240 438,240 438,372 295,380 140,372" fill="#66b262"/>
<polygon points="140,240 218,238 140,372" fill="#57a354"/>
<polygon points="218,238 295,372 140,372" fill="#86d280"/>
<polygon points="218,238 360,238 295,372" fill="#55a052"/>
<polygon points="360,238 438,372 295,372" fill="#86d280"/>
<polygon points="360,238 438,240 438,372" fill="#57a354"/>
<polygon points="140,372 295,372 438,372 295,384" fill="#3f8a3f"/>
<circle cx="222" cy="308" r="34" fill="url(#gLGreen)" fill-opacity="0.8"/>
<rect x="263" y="180" width="56" height="92" rx="24" fill="url(#gCol)"/>
<ellipse cx="291" cy="200" rx="28" ry="13" fill="#ffffff" fill-opacity="0.6"/>
<ellipse cx="291" cy="222" rx="28" ry="13" fill="#ffffff" fill-opacity="0.6"/>
<ellipse cx="291" cy="244" rx="28" ry="13" fill="#ffffff" fill-opacity="0.6"/>
<circle cx="291" cy="272" r="25" fill="url(#gPink)"/>
<circle cx="362" cy="308" r="30" fill="url(#gYel)"/>
<circle cx="218" cy="128" r="13.5" fill="url(#gRed)"/>
<circle cx="295" cy="123" r="13.5" fill="url(#gRed)"/>
<circle cx="360" cy="128" r="13.5" fill="url(#gRed)"/>
<circle cx="140" cy="240" r="13.5" fill="url(#gRed)"/>
<circle cx="218" cy="237" r="13.5" fill="url(#gRed)"/>
<circle cx="360" cy="237" r="13.5" fill="url(#gRed)"/>
<circle cx="438" cy="240" r="13.5" fill="url(#gRed)"/>
<circle cx="140" cy="370" r="13.5" fill="url(#gRed)"/>
<circle cx="295" cy="372" r="13.5" fill="url(#gRed)"/>
<circle cx="438" cy="370" r="13.5" fill="url(#gRed)"/>
<circle cx="214" cy="381" r="12.5" fill="url(#gBlueAt)"/>
</g>
<text x="381.2" y="664.6" font-size="10.6" fill="#2c4a2c">F<tspan dy="-3.6" font-size="7">-</tspan></text>
<text x="415" y="656" font-size="11" fill="#3a3410" textLength="19.6" lengthAdjust="spacingAndGlyphs">Na<tspan dy="-4" font-size="6.5">+</tspan></text>
<text x="389.2" y="689.7" font-size="12" fill="#2e2e2e" textLength="36.9" lengthAdjust="spacingAndGlyphs" >TM=Ni</text>
<g transform="translate(396.03,629.84) scale(0.27050)">
<circle cx="218" cy="380" r="11.5" fill="#e54a4a" fill-opacity="0.85"/>
<circle cx="360" cy="380" r="11.5" fill="#e54a4a" fill-opacity="0.85"/>
<circle cx="295" cy="388" r="11.5" fill="#e54a4a" fill-opacity="0.85"/>
<polygon points="218,130 295,124 360,130 360,240 218,240" fill="#8e8e8e"/>
<polygon points="218,130 295,124 360,130 289,152" fill="#7e7e7e" fill-opacity="0.7"/>
<polygon points="292,134 352,240 232,240" fill="#cfcfcf"/>
<polygon points="218,130 292,134 232,240 218,240" fill="#7e7e7e" fill-opacity="0.5"/>
<polygon points="360,130 292,134 352,240 360,240" fill="#7e7e7e" fill-opacity="0.75"/>
<polygon points="140,240 438,240 438,372 295,380 140,372" fill="#66b262"/>
<polygon points="140,240 218,238 140,372" fill="#57a354"/>
<polygon points="218,238 295,372 140,372" fill="#86d280"/>
<polygon points="218,238 360,238 295,372" fill="#55a052"/>
<polygon points="360,238 438,372 295,372" fill="#86d280"/>
<polygon points="360,238 438,240 438,372" fill="#57a354"/>
<polygon points="140,372 295,372 438,372 295,384" fill="#3f8a3f"/>
<circle cx="362" cy="308" r="34" fill="url(#gLGreen)" fill-opacity="0.8"/>
<rect x="263" y="180" width="56" height="92" rx="24" fill="url(#gColG)"/>
<ellipse cx="291" cy="200" rx="28" ry="13" fill="#ffffff" fill-opacity="0.6"/>
<ellipse cx="291" cy="222" rx="28" ry="13" fill="#ffffff" fill-opacity="0.6"/>
<ellipse cx="291" cy="244" rx="28" ry="13" fill="#ffffff" fill-opacity="0.6"/>
<circle cx="291" cy="272" r="25" fill="url(#gGrey)"/>
<circle cx="215" cy="310" r="31" fill="url(#gYel)"/>
<circle cx="218" cy="128" r="13.5" fill="url(#gRed)"/>
<circle cx="295" cy="123" r="13.5" fill="url(#gRed)"/>
<circle cx="360" cy="128" r="13.5" fill="url(#gRed)"/>
<circle cx="140" cy="240" r="13.5" fill="url(#gRed)"/>
<circle cx="218" cy="237" r="13.5" fill="url(#gRed)"/>
<circle cx="360" cy="237" r="13.5" fill="url(#gRed)"/>
<circle cx="438" cy="240" r="13.5" fill="url(#gRed)"/>
<circle cx="140" cy="370" r="13.5" fill="url(#gRed)"/>
<circle cx="295" cy="372" r="13.5" fill="url(#gRed)"/>
<circle cx="438" cy="370" r="13.5" fill="url(#gRed)"/>
<circle cx="361" cy="386" r="12.5" fill="url(#gBlueAt)"/>
</g>
<text x="458.9" y="749.6" font-size="12" fill="#2e2e2e" textLength="44.5" lengthAdjust="spacingAndGlyphs" >TM=Mn</text>
<rect x="55.2" y="542.4" width="303.3" height="144.5" fill="none" stroke="#333333" stroke-width="1.1"/>
<path d="M55.2 686.9h4M55.2 638.7h4M55.2 590.6h4M55.2 542.4h4" stroke="#333333" stroke-width="1" fill="none"/>
<text x="45.6" y="691.3" font-size="12.6" fill="#444" textLength="6.8" lengthAdjust="spacingAndGlyphs" >0</text>
<text x="45.6" y="643.1" font-size="12.6" fill="#444" textLength="6.8" lengthAdjust="spacingAndGlyphs" >2</text>
<text x="45.6" y="595.0" font-size="12.6" fill="#444" textLength="6.8" lengthAdjust="spacingAndGlyphs" >4</text>
<text x="45.6" y="546.8" font-size="12.6" fill="#444" textLength="6.8" lengthAdjust="spacingAndGlyphs" >6</text>
<text transform="translate(41.0,613.8) rotate(-90)" font-size="13.2" fill="#2e2e2e" text-anchor="middle" textLength="138.4" lengthAdjust="spacingAndGlyphs" >Migration barriers (eV)</text>
<rect x="74.7" y="676.3" width="38.1" height="10.6" fill="#b6e4e9" stroke="#5a5a5a" stroke-width="0.8"/>
<rect x="150.2" y="641.9" width="38.4" height="45.0" fill="#9ed59c" stroke="#5a5a5a" stroke-width="0.8"/>
<rect x="225.7" y="633.0" width="38.4" height="53.9" fill="#fdb5f6" stroke="#5a5a5a" stroke-width="0.8"/>
<rect x="301.6" y="604.5" width="38.0" height="82.4" fill="#94b6f1" stroke="#5a5a5a" stroke-width="0.8"/>
<path d="M208.8 543V684" stroke="#444" stroke-width="0.9" stroke-dasharray="1.2 1.4"/>
<text x="118.6" y="556.0" font-size="11.6" fill="#2e2e2e" textLength="34.9" lengthAdjust="spacingAndGlyphs" >NMPR</text>
<text x="261.5" y="555.4" font-size="11.6" fill="#2e2e2e" textLength="37.8" lengthAdjust="spacingAndGlyphs" >NMCD</text>
<text x="65.6" y="661.2" font-size="12.4" fill="#2e2e2e" textLength="57.9" lengthAdjust="spacingAndGlyphs" >E=0.44 eV</text>
<text x="142.1" y="630.3" font-size="12.4" fill="#2e2e2e" textLength="55.3" lengthAdjust="spacingAndGlyphs" >E=1.87 eV</text>
<text x="219.2" y="621.1" font-size="12.4" fill="#2e2e2e" textLength="56.3" lengthAdjust="spacingAndGlyphs" >E=2.24 eV</text>
<text x="292.8" y="596.7" font-size="12.4" fill="#2e2e2e" textLength="56.6" lengthAdjust="spacingAndGlyphs" >E=3.42 eV</text>
<text x="72.7" y="697.6" font-size="12" fill="#2e2e2e" textLength="41.7" lengthAdjust="spacingAndGlyphs" >TM=Ni</text>
<text x="147.0" y="697.6" font-size="12" fill="#2e2e2e" textLength="50.4" lengthAdjust="spacingAndGlyphs" >TM=Mn</text>
<text x="223.4" y="697.6" font-size="12" fill="#2e2e2e" textLength="42.4" lengthAdjust="spacingAndGlyphs" >TM=Ni</text>
<text x="300.6" y="696.4" font-size="12" fill="#2e2e2e" textLength="48.2" lengthAdjust="spacingAndGlyphs" >TM=Mn</text>
<path d="M822.8 494.3L824.5 493.5L826.2 492.6L827.9 492.1L829.6 492.3L831.3 491.0L833.1 490.7L834.8 491.3L836.5 491.4L838.2 492.1L839.9 492.8L841.6 492.0L843.4 491.5L845.1 492.8L846.8 491.7L848.5 492.7L850.2 493.0L851.9 493.5L853.6 492.3L855.4 492.3L857.1 492.1L858.8 492.3L860.5 493.2L862.2 492.9L863.9 492.6L865.7 493.1L867.4 491.8L869.1 492.4L870.8 492.9L872.5 491.8L874.2 492.8L875.9 491.7L877.7 492.3L879.4 492.3L881.1 492.6L882.8 492.5L884.5 493.0L886.2 493.3L888.0 492.1L889.7 492.9L891.4 492.5L893.1 493.4L894.8 493.2L896.5 493.7" fill="none" stroke="#a878d8" stroke-width="1.6" stroke-linejoin="round"/>
<path d="M822.8 494.3L824.5 494.9L826.2 495.1L827.9 497.2L829.6 496.4L831.3 496.0L833.1 497.2L834.8 496.7L836.5 498.0L838.2 496.7L839.9 498.3L841.6 497.0L843.4 497.2L845.1 497.7L846.8 497.1L848.5 497.1L850.2 496.5L851.9 495.3L853.6 496.2L855.4 496.1L857.1 495.7L858.8 495.5L860.5 496.4L862.2 496.3L863.9 496.8L865.7 496.8L867.4 497.1L869.1 496.6L870.8 496.7L872.5 496.6L874.2 496.0L875.9 497.0L877.7 496.1L879.4 496.7L881.1 497.1L882.8 496.6L884.5 495.7L886.2 496.6L888.0 496.4L889.7 495.6L891.4 495.1L893.1 495.4L894.8 494.8L896.5 494.8" fill="none" stroke="#a878d8" stroke-width="1.6" stroke-linejoin="round"/>
<path d="M896.8 494.6L897.3 494.8L897.8 495.9L898.2 499.2L898.7 506.4L899.2 515.2L899.6 519.5L900.1 515.2L900.6 506.6L901.1 500.2L901.5 498.7L902.0 500.0L902.5 500.2L902.9 498.2L903.4 496.0L903.9 494.8L904.3 494.5L904.8 494.5L905.3 494.4L905.7 494.3L906.2 494.5L906.7 494.5L907.1 494.5L907.6 494.5L908.1 494.6L908.5 494.4L909.0 494.5L909.5 494.4L909.9 494.5L910.4 494.5L910.9 494.4L911.3 494.3" fill="none" stroke="#a878d8" stroke-width="1.7" stroke-linejoin="round"/>
<path d="M896.8 494.1L897.3 494.1L897.8 494.2L898.2 494.0L898.7 494.2L899.2 494.1L899.6 494.2L900.1 494.1L900.6 494.2L901.1 494.1L901.5 494.0L902.0 493.6L902.5 492.4L902.9 489.7L903.4 486.5L903.9 485.0L904.3 485.6L904.8 486.0L905.3 484.6L905.7 483.7L906.2 486.3L906.7 490.4L907.1 493.2L907.6 493.9L908.1 494.0L908.5 494.2L909.0 494.2L909.5 494.2L909.9 494.2L910.4 494.2L910.9 494.1L911.3 494.0" fill="none" stroke="#a878d8" stroke-width="1.7" stroke-linejoin="round"/>
<path d="M832.1 593.3L833.7 591.7L835.2 589.5L836.8 589.2L838.4 589.7L839.9 588.7L841.5 589.4L843.0 590.0L844.6 590.2L846.2 590.6L847.7 591.2L849.3 590.3L850.8 589.7L852.4 590.1L854.0 590.4L855.5 591.2L857.1 591.2L858.6 591.8L860.2 591.0L861.8 591.6L863.3 591.8L864.9 591.0L866.4 591.6L868.0 590.7L869.6 590.9L871.1 590.6L872.7 590.7L874.2 591.5L875.8 590.5L877.3 591.1L878.9 590.9L880.5 591.4L882.0 591.6L883.6 590.8L885.1 591.5L886.7 590.6L888.3 589.1L889.8 588.2L891.4 589.6L892.9 590.7L894.5 590.2L896.1 590.9L897.6 590.3L899.2 588.4L900.7 587.7L902.3 589.8L903.9 587.9L905.4 587.6L907.0 588.1L908.5 589.6L910.1 589.1L911.7 590.4L913.2 589.0L914.8 589.5L916.3 590.1L917.9 591.2L919.5 591.3L921.0 592.6L922.6 593.3" fill="none" stroke="#a878d8" stroke-width="1.7" stroke-linejoin="round"/>
<path d="M832.1 593.3L833.5 593.8L834.9 594.9L836.3 595.0L837.7 595.6L839.1 596.8L840.5 596.3L842.0 596.8L843.4 596.3L844.8 598.8L846.2 599.8L847.6 597.2L849.0 596.4L850.4 597.2L851.8 597.4L853.2 598.0L854.6 596.9L856.0 597.2L857.4 596.0L858.8 595.9L860.2 595.4L861.6 596.3L863.0 596.3L864.4 596.3L865.8 596.7L867.2 595.6L868.6 595.3L870.0 595.4L871.4 595.9L872.8 595.0L874.2 594.7L875.6 594.9L877.0 595.2L878.4 594.8L879.8 594.6L881.2 595.2L882.7 595.1L884.1 595.1L885.5 594.5L886.9 594.6L888.3 594.5L889.7 594.7L891.1 595.5L892.5 595.8L893.9 595.7L895.3 595.1L896.7 595.3L898.1 595.8L899.5 595.2L900.9 595.2L902.3 595.7L903.7 597.4L905.1 599.8L906.5 601.8L907.9 609.9L909.3 612.4L910.7 602.4L912.1 598.0L913.5 598.3L914.9 595.1L916.3 595.3L917.7 594.4L919.1 594.1L920.5 593.5" fill="none" stroke="#a878d8" stroke-width="1.7" stroke-linejoin="round"/>
<path d="M933.5 593.2L934.0 593.2L934.4 593.1L934.9 593.1L935.4 593.2L935.8 593.1L936.3 593.2L936.8 593.2L937.2 593.3L937.7 593.1L938.2 592.7L938.6 591.7L939.1 589.5L939.6 585.7L940.0 581.7L940.5 580.0L941.0 581.1L941.4 582.8L941.9 582.2L942.4 579.2L942.8 577.6L943.3 580.5L943.8 586.0L944.2 590.3L944.7 592.4L945.2 593.0L945.7 593.1L946.1 593.2L946.6 593.1L947.1 593.2L947.5 593.2L948.0 593.2L948.5 593.0L948.9 593.2L949.4 593.1L949.9 593.0L950.3 593.1L950.8 593.0L951.3 593.2L951.7 593.2L952.2 593.2L952.7 593.2L953.1 593.2L953.6 593.3L954.1 593.1L954.5 593.1L955.0 593.1L955.5 593.1L955.9 593.2L956.4 593.2L956.9 593.1L957.3 593.1L957.8 593.1L958.3 593.1L958.7 593.0L959.2 593.2L959.7 593.2L960.2 593.2L960.6 593.2L961.1 593.1L961.6 593.2L962.0 593.3L962.5 593.1L963.0 593.2L963.4 593.1L963.9 593.2L964.4 593.2" fill="none" stroke="#a878d8" stroke-width="1.7" stroke-linejoin="round"/>
<path d="M933.5 593.5L934.0 594.0L934.4 595.2L934.9 597.9L935.4 600.8L935.8 602.6L936.3 601.2L936.8 598.9L937.2 598.5L937.7 601.1L938.2 604.7L938.6 605.3L939.1 602.0L939.6 597.9L940.0 595.0L940.5 593.9L941.0 593.4L941.4 593.5L941.9 593.3L942.4 593.3L942.8 593.3L943.3 593.3L943.8 593.4L944.2 593.4L944.7 593.4L945.2 593.5L945.7 593.5L946.1 593.4L946.6 593.4L947.1 593.5L947.5 593.5L948.0 593.4L948.5 593.4L948.9 593.4L949.4 593.4L949.9 593.4L950.3 593.4L950.8 593.5L951.3 593.5L951.7 593.5L952.2 593.7L952.7 594.0L953.1 594.2L953.6 594.4L954.1 594.8L954.5 595.1L955.0 595.6L955.5 596.0L955.9 596.2L956.4 596.4L956.9 596.5L957.3 596.3L957.8 596.3L958.3 596.0L958.7 595.7L959.2 595.1L959.7 594.7L960.2 594.5L960.6 594.1L961.1 593.9L961.6 593.7L962.0 593.7L962.5 593.5L963.0 593.4L963.4 593.4L963.9 593.5L964.4 593.4" fill="none" stroke="#a878d8" stroke-width="1.7" stroke-linejoin="round"/>
<path d="M822.8 494.3L824.3 493.1L825.9 491.1L827.4 488.0L829.0 489.8L830.6 490.1L832.1 489.3L833.7 485.6L835.2 488.3L836.8 484.6L838.4 485.4L839.9 489.2L841.5 488.3L843.0 489.2L844.6 490.1L846.2 489.1L847.7 491.4L849.3 492.1L850.8 489.2L852.4 490.3L854.0 491.2L855.5 490.8L857.1 490.6L858.6 488.4L860.2 490.5L861.8 490.9L863.3 489.5L864.9 489.3L866.4 487.6L868.0 487.6L869.6 489.5L871.1 490.4L872.7 487.9L874.2 486.6L875.8 490.6L877.3 488.4L878.9 487.5L880.5 488.3L882.0 490.3L883.6 488.4L885.1 488.4L886.7 490.5L888.3 489.7L889.8 491.3L891.4 492.3L892.9 492.0L894.5 492.2L896.1 493.6" fill="none" stroke="#45a2e4" stroke-width="1.8" stroke-linejoin="round"/>
<path d="M822.8 494.3L824.3 495.6L825.9 497.3L827.4 501.5L829.0 500.8L830.6 502.1L832.1 499.4L833.7 501.5L835.2 504.4L836.8 503.4L838.4 504.9L839.9 503.8L841.5 500.3L843.0 497.5L844.6 499.4L846.2 497.0L847.7 496.4L849.3 498.6L850.8 499.5L852.4 499.7L854.0 500.3L855.5 497.9L857.1 497.0L858.6 497.0L860.2 500.2L861.8 497.7L863.3 497.5L864.9 496.9L866.4 497.0L868.0 497.0L869.6 498.3L871.1 497.9L872.7 498.4L874.2 501.3L875.8 498.5L877.3 500.6L878.9 500.6L880.5 499.8L882.0 499.7L883.6 500.3L885.1 499.7L886.7 498.1L888.3 497.8L889.8 497.2L891.4 497.3L892.9 498.3L894.5 496.9L896.1 494.9" fill="none" stroke="#45a2e4" stroke-width="1.8" stroke-linejoin="round"/>
<path d="M893.7 493.8L894.2 492.8L894.7 489.9L895.1 485.1L895.6 480.2L896.1 479.2L896.5 483.1L897.0 488.6L897.5 492.1L897.9 493.5L898.4 494.0L898.9 493.8L899.3 493.6L899.8 492.4L900.3 489.4L900.7 484.9L901.2 480.2L901.7 478.2L902.1 480.2L902.6 485.1L903.1 489.5L903.5 492.0L904.0 492.4L904.5 490.1L905.0 484.7L905.4 477.1L905.9 470.5L906.4 469.6L906.8 474.8L907.3 482.3L907.8 488.9L908.2 492.3L908.7 492.8L909.2 491.4L909.6 487.9L910.1 483.3L910.6 481.2L911.0 483.4L911.5 488.0L912.0 491.6L912.4 493.4L912.9 493.7L913.4 493.0L913.8 490.9L914.3 486.8L914.8 481.5L915.2 478.2L915.7 479.0L916.2 483.4L916.6 488.3L917.1 491.8L917.6 493.4L918.0 494.1L918.5 494.2L919.0 494.2L919.5 494.2L919.9 494.0L920.4 494.1L920.9 494.1L921.3 494.1L921.8 494.1L922.3 494.0L922.7 494.1L923.2 494.2L923.7 494.1L924.1 494.1L924.6 493.9L925.1 493.9L925.5 492.8L926.0 490.5L926.5 484.9L926.9 477.2L927.4 470.7L927.9 469.3L928.3 474.5L928.8 482.6L929.3 488.9L929.7 492.3L930.2 493.8L930.7 494.2L931.1 494.1L931.6 494.0L932.1 494.1L932.6 494.0L933.0 493.5L933.5 491.7L934.0 487.0L934.4 480.2L934.9 475.4L935.4 476.6L935.8 481.9L936.3 486.0L936.8 485.3L937.2 481.4L937.7 479.2L938.2 481.5L938.6 486.8L939.1 491.2L939.6 493.1L940.0 493.4L940.5 492.6L941.0 491.1L941.4 489.4L941.9 488.1L942.4 488.3L942.8 489.8L943.3 491.7L943.8 493.1L944.2 493.8L944.7 493.9L945.2 494.0L945.7 494.0L946.1 494.2L946.6 494.2L947.1 494.2L947.5 494.0L948.0 493.7L948.5 493.0L948.9 490.6L949.4 486.0L949.9 481.0L950.3 477.2L950.8 477.7L951.3 481.2L951.7 482.8L952.2 479.4L952.7 472.6L953.1 468.8L953.6 473.2L954.1 481.9L954.5 489.1L955.0 492.7L955.5 493.4L955.9 491.9L956.4 487.8L956.9 481.4L957.3 475.0L957.8 472.2L958.3 475.0L958.7 481.4L959.2 487.6L959.7 491.0L960.2 491.5L960.6 490.4L961.1 488.7L961.6 488.2L962.0 489.1L962.5 490.6L963.0 492.2L963.4 493.1L963.9 492.3L964.4 489.1L964.8 483.0L965.3 475.4L965.8 470.5L966.2 471.6L966.7 478.0L967.2 485.4L967.6 490.6L968.1 493.1L968.6 493.9L969.0 494.2L969.5 494.0L970.0 494.0L970.4 494.1L970.9 494.0L971.4 494.2L971.8 494.3L972.3 494.3L972.8 494.2L973.3 494.1L973.7 494.2L974.2 494.2L974.7 494.0L975.1 494.2L975.6 494.1L976.1 494.1L976.5 494.2L977.0 494.0L977.5 494.2L977.9 494.3" fill="none" stroke="#45a2e4" stroke-width="1.9" stroke-linejoin="round"/>
<path d="M893.7 494.5L894.2 494.6L894.7 494.7L895.1 494.8L895.6 495.3L896.1 496.2L896.5 498.4L897.0 500.8L897.5 502.3L897.9 501.9L898.4 499.9L898.9 497.3L899.3 495.6L899.8 494.9L900.3 494.7L900.7 494.7L901.2 494.4L901.7 494.3L902.1 494.4L902.6 494.5L903.1 494.6L903.5 494.7L904.0 494.7L904.5 494.6L905.0 494.6L905.4 494.5L905.9 494.4L906.4 494.4L906.8 494.5L907.3 494.6L907.8 494.6L908.2 494.5L908.7 494.5L909.2 494.4L909.6 494.6L910.1 494.6L910.6 494.6L911.0 494.7L911.5 494.5L912.0 494.4L912.4 494.4L912.9 494.7L913.4 494.7L913.8 494.9L914.3 495.9L914.8 498.0L915.2 502.4L915.7 507.9L916.2 513.4L916.6 515.7L917.1 513.3L917.6 508.0L918.0 502.1L918.5 498.0L919.0 495.7L919.5 494.8L919.9 494.4L920.4 494.4L920.9 494.4L921.3 494.5L921.8 494.5L922.3 494.4L922.7 494.7L923.2 494.6L923.7 495.1L924.1 496.8L924.6 500.3L925.1 506.1L925.5 512.0L926.0 514.7L926.5 511.8L926.9 506.0L927.4 500.1L927.9 496.6L928.3 495.2L928.8 494.8L929.3 494.5L929.7 494.5L930.2 494.5L930.7 495.0L931.1 495.9L931.6 498.5L932.1 504.5L932.6 512.6L933.0 519.8L933.5 521.1L934.0 515.7L934.4 507.2L934.9 500.2L935.4 496.6L935.8 495.2L936.3 495.6L936.8 497.8L937.2 502.7L937.7 512.7L938.2 526.1L938.6 538.4L939.1 543.3L939.6 538.6L940.0 526.0L940.5 513.3L941.0 506.2L941.4 507.2L941.9 514.1L942.4 520.3L942.8 518.7L943.3 510.6L943.8 503.0L944.2 501.0L944.7 505.4L945.2 515.5L945.7 528.3L946.1 538.3L946.6 539.9L947.1 532.3L947.5 519.6L948.0 507.8L948.5 500.2L948.9 496.8L949.4 495.9L949.9 497.3L950.3 500.3L950.8 503.9L951.3 506.2L951.7 505.9L952.2 502.8L952.7 498.9L953.1 496.4L953.6 495.2L954.1 494.8L954.5 494.9L955.0 496.2L955.5 499.4L955.9 504.3L956.4 509.4L956.9 511.5L957.3 509.4L957.8 504.4L958.3 499.5L958.7 497.1L959.2 497.2L959.7 500.6L960.2 506.5L960.6 512.9L961.1 515.7L961.6 512.8L962.0 506.6L962.5 500.4L963.0 496.9L963.4 495.4L963.9 495.3L964.4 496.7L964.8 501.0L965.3 507.4L965.8 512.1L966.2 510.9L966.7 505.1L967.2 499.2L967.6 496.2L968.1 495.1L968.6 495.7L969.0 497.9L969.5 502.3L970.0 508.9L970.4 514.3L970.9 515.2L971.4 510.8L971.8 504.3L972.3 498.9L972.8 496.8L973.3 498.3L973.7 504.0L974.2 512.7L974.7 518.9L975.1 517.7L975.6 509.6L976.1 501.4L976.5 496.6L977.0 495.1L977.5 494.5L977.9 494.4" fill="none" stroke="#45a2e4" stroke-width="1.9" stroke-linejoin="round"/>
<path d="M830.6 593.3L832.0 591.7L833.4 590.8L834.8 587.6L836.2 588.4L837.6 586.9L839.0 584.3L840.4 585.8L841.8 582.6L843.2 582.7L844.6 583.3L846.0 583.7L847.4 584.6L848.8 586.5L850.2 584.3L851.6 587.1L853.0 585.9L854.4 586.9L855.8 590.1L857.2 590.0L858.6 589.5L860.0 588.6L861.4 590.3L862.8 589.6L864.3 590.2L865.7 589.5L867.1 589.3L868.5 589.6L869.9 590.7L871.3 589.6L872.7 590.0L874.1 589.1L875.5 589.7L876.9 588.6L878.3 588.1L879.7 588.3L881.1 588.2L882.5 588.0L883.9 588.5L885.3 589.7L886.7 587.3L888.1 588.3L889.5 589.9L890.9 588.7L892.3 588.4L893.7 589.0L895.1 585.9L896.5 588.5L897.9 585.4L899.3 586.0L900.7 587.7L902.1 587.0L903.5 585.9L905.0 587.1L906.4 582.9L907.8 582.1L909.2 578.5L910.6 577.2L912.0 575.9L913.4 571.1L914.8 561.3L916.2 557.4L917.6 557.6L919.0 564.3L920.4 565.5L921.8 568.8L923.2 575.3L924.6 586.6" fill="none" stroke="#45a2e4" stroke-width="1.9" stroke-linejoin="round"/>
<path d="M830.6 593.3L832.1 594.5L833.7 597.1L835.2 598.4L836.8 600.1L838.4 598.2L839.9 599.7L841.5 597.0L843.0 599.5L844.6 597.8L846.2 597.0L847.7 597.7L849.3 599.4L850.8 597.2L852.4 598.8L854.0 597.3L855.5 597.5L857.1 598.2L858.6 598.8L860.2 599.3L861.8 602.8L863.3 601.3L864.9 604.1L866.4 603.9L868.0 603.0L869.6 602.2L871.1 599.6L872.7 598.8L874.2 598.6L875.8 597.5L877.3 596.0L878.9 596.6L880.5 596.6L882.0 595.6L883.6 595.1L885.1 595.2L886.7 596.1L888.3 596.4L889.8 596.0L891.4 595.4L892.9 594.6L894.5 594.4L896.1 595.3L897.6 595.2L899.2 595.0L900.7 594.5L902.3 594.3L903.9 594.3L905.4 594.2L907.0 594.6L908.5 594.3L910.1 594.3L911.7 594.1L913.2 594.0L914.8 594.0L916.3 593.9L917.9 593.6L919.5 593.7L921.0 593.6L922.6 593.5L924.1 593.4L925.7 593.3" fill="none" stroke="#45a2e4" stroke-width="1.8" stroke-linejoin="round"/>
<path d="M935.0 593.1L935.5 593.1L936.0 593.1L936.5 593.1L936.9 593.0L937.4 593.1L937.9 593.1L938.3 593.1L938.8 593.0L939.3 592.9L939.7 592.2L940.2 590.7L940.7 589.2L941.1 588.3L941.6 588.4L942.1 589.8L942.5 591.4L943.0 592.4L943.5 593.0L943.9 593.2L944.4 593.2L944.9 593.1L945.3 593.2L945.8 593.1L946.3 593.0L946.7 593.2L947.2 593.2L947.7 593.3L948.1 593.1L948.6 593.2L949.1 593.2L949.5 593.2L950.0 593.1L950.5 593.1L951.0 593.1L951.4 593.1L951.9 593.2L952.4 593.2L952.8 593.0L953.3 593.2L953.8 593.2L954.2 593.2L954.7 592.8L955.2 592.3L955.6 591.6L956.1 589.8L956.6 587.3L957.0 584.1L957.5 580.8L958.0 578.2L958.4 577.2L958.9 577.8L959.4 580.1L959.8 582.2L960.3 582.8L960.8 580.9L961.2 576.7L961.7 571.9L962.2 568.7L962.6 569.1L963.1 572.1L963.6 575.1L964.1 575.7L964.5 573.7L965.0 570.8L965.5 569.8L965.9 572.1L966.4 577.1L966.9 583.0L967.3 587.7L967.8 590.8L968.3 592.3L968.7 593.0L969.2 593.0L969.7 593.1L970.1 593.1L970.6 593.2L971.1 593.1L971.5 593.1L972.0 593.2L972.5 593.2L972.9 593.1L973.4 593.2L973.9 593.2L974.3 593.3L974.8 593.1L975.3 593.2L975.7 593.1L976.2 593.1L976.7 593.1L977.1 593.2L977.6 593.2L978.1 593.1L978.6 593.2L979.0 593.1L979.5 593.0L980.0 593.0L980.4 593.1L980.9 593.1L981.4 593.2L981.8 593.1L982.3 593.0L982.8 593.2L983.2 593.3L983.7 593.2L984.2 593.2L984.6 593.1L985.1 593.1L985.6 593.2L986.0 593.1L986.5 593.2L987.0 593.1L987.4 593.1L987.9 593.1L988.4 593.2L988.8 593.1L989.3 593.2L989.8 593.2L990.2 593.2L990.7 593.3L991.2 593.1L991.7 593.2L992.1 593.2L992.6 593.3" fill="none" stroke="#45a2e4" stroke-width="1.9" stroke-linejoin="round"/>
<path d="M935.0 593.6L935.5 593.4L936.0 593.5L936.5 593.5L936.9 593.6L937.4 593.7L937.9 594.3L938.3 595.7L938.8 598.0L939.3 600.5L939.7 601.6L940.2 600.5L940.7 597.9L941.1 595.8L941.6 594.3L942.1 593.7L942.5 593.5L943.0 593.5L943.5 593.6L943.9 593.4L944.4 593.4L944.9 593.6L945.3 593.4L945.8 593.4L946.3 593.4L946.7 593.5L947.2 593.4L947.7 593.4L948.1 593.5L948.6 593.8L949.1 594.9L949.5 597.9L950.0 603.1L950.5 610.1L951.0 616.7L951.4 619.6L951.9 617.1L952.4 611.2L952.8 606.1L953.3 605.3L953.8 609.7L954.2 618.5L954.7 627.5L955.2 633.1L955.6 632.1L956.1 626.0L956.6 619.8L957.0 619.5L957.5 627.7L958.0 639.1L958.4 643.0L958.9 638.6L959.4 627.3L959.8 621.5L960.3 626.7L960.8 637.8L961.2 643.0L961.7 640.2L962.2 631.6L962.6 626.2L963.1 624.8L963.6 622.4L964.1 615.5L964.5 606.6L965.0 599.3L965.5 595.4L965.9 593.9L966.4 593.5L966.9 593.5L967.3 593.5L967.8 593.5L968.3 593.6L968.7 593.5L969.2 593.4L969.7 593.4L970.1 593.4L970.6 593.4L971.1 593.4L971.5 593.5L972.0 593.5L972.5 593.4L972.9 593.4L973.4 593.4L973.9 593.5L974.3 593.5L974.8 593.5L975.3 593.5L975.7 593.4L976.2 593.4L976.7 593.5L977.1 593.5L977.6 593.5L978.1 593.6L978.6 593.9L979.0 594.5L979.5 596.0L980.0 599.5L980.4 604.5L980.9 610.8L981.4 616.3L981.8 618.6L982.3 617.3L982.8 613.7L983.2 611.1L983.7 612.5L984.2 618.2L984.6 625.1L985.1 629.4L985.6 628.4L986.0 622.5L986.5 615.3L987.0 610.7L987.4 609.5L987.9 609.1L988.4 607.3L988.8 603.0L989.3 598.7L989.8 595.6L990.2 594.1L990.7 593.6L991.2 593.4L991.7 593.3L992.1 593.4L992.6 593.4" fill="none" stroke="#45a2e4" stroke-width="1.9" stroke-linejoin="round"/>
<path d="M819.7 494.3L821.2 491.0L822.8 486.0L824.3 484.5L825.9 481.5L827.4 479.0L829.0 481.7L830.6 477.1L832.1 473.1L833.7 471.3L835.2 480.9L836.8 480.5L838.4 483.5L839.9 476.4L841.5 477.2L843.0 484.6L844.6 476.4L846.2 474.9L847.7 477.7L849.3 478.6L850.8 483.4L852.4 485.8L854.0 480.9L855.5 484.8L857.1 483.9L858.6 483.0L860.2 484.9L861.8 480.2L863.3 479.2L864.9 473.9L866.4 475.9L868.0 474.2L869.6 475.0L871.1 472.3L872.7 474.1L874.2 476.6L875.8 465.8L877.3 463.4L878.9 465.0L880.5 467.2L882.0 473.8L883.6 476.5L885.1 476.0L886.7 479.5L888.3 468.6L889.8 475.0L891.4 476.0L892.9 485.4L894.5 487.0L896.1 491.9L897.6 494.3" fill="none" stroke="#c4c4c4" stroke-width="2.0" stroke-linejoin="round"/>
<path d="M819.7 494.3L821.2 497.3L822.8 500.5L824.3 500.5L825.9 500.8L827.4 505.2L829.0 506.8L830.6 515.7L832.1 518.3L833.7 519.6L835.2 518.0L836.8 518.9L838.4 510.6L839.9 513.2L841.5 509.2L843.0 518.8L844.6 508.4L846.2 516.6L847.7 507.8L849.3 514.0L850.8 510.4L852.4 510.3L854.0 515.4L855.5 506.0L857.1 504.8L858.6 515.2L860.2 512.4L861.8 506.6L863.3 516.9L864.9 518.6L866.4 508.3L868.0 510.4L869.6 507.6L871.1 510.0L872.7 515.6L874.2 510.5L875.8 518.4L877.3 510.1L878.9 510.6L880.5 522.1L882.0 517.6L883.6 517.4L885.1 520.9L886.7 520.4L888.3 519.3L889.8 512.5L891.4 517.7L892.9 513.9L894.5 506.2L896.1 497.2L897.6 494.3" fill="none" stroke="#c4c4c4" stroke-width="2.0" stroke-linejoin="round"/>
<path d="M897.6 492.7L898.2 490.0L898.9 486.1L899.5 482.4L900.1 482.0L900.7 484.7L901.4 488.7L902.0 491.7L902.6 492.2L903.2 491.5L903.9 487.5L904.5 482.1L905.1 477.6L905.7 477.5L906.4 481.4L907.0 486.3L907.6 488.1L908.2 484.6L908.8 479.6L909.5 477.6L910.1 481.6L910.7 487.4L911.3 491.1L912.0 491.9L912.6 490.2L913.2 487.4L913.8 486.0L914.5 486.2L915.1 489.3L915.7 491.6L916.3 493.1L917.0 493.7L917.6 493.8L918.2 493.8L918.8 493.9L919.5 494.1L920.1 493.5L920.7 493.4L921.3 493.2L921.9 493.4L922.6 493.6L923.2 493.4L923.8 494.0L924.4 493.6L925.1 493.7L925.7 493.9L926.3 493.4L926.9 491.6L927.6 489.2L928.2 486.1L928.8 484.6L929.4 486.1L930.1 489.3L930.7 491.6L931.3 493.1L931.9 493.1L932.6 491.3L933.2 487.3L933.8 483.4L934.4 481.6L935.0 483.6L935.7 486.2L936.3 484.4L936.9 480.4L937.5 480.2L938.2 483.8L938.8 488.3L939.4 491.6L940.0 493.1L940.7 493.9L941.3 493.8L941.9 493.4L942.5 493.3L943.2 493.3L943.8 493.9L944.4 493.4L945.0 493.8L945.7 493.5L946.3 494.0L946.9 493.3L947.5 493.3L948.1 492.4L948.8 490.8L949.4 486.8L950.0 482.5L950.6 480.6L951.3 482.7L951.9 486.4L952.5 489.5L953.1 489.2L953.8 486.5L954.4 483.7L955.0 485.0L955.6 488.3L956.3 490.9L956.9 490.5L957.5 488.6L958.1 486.9L958.7 487.4L959.4 489.0L960.0 491.3L960.6 493.1L961.2 494.0L961.9 493.2L962.5 493.8L963.1 493.3L963.7 492.2L964.4 490.0L965.0 488.6L965.6 487.9L966.2 489.2L966.9 490.7L967.5 493.0L968.1 493.6L968.7 493.7L969.4 493.2L970.0 493.6L970.6 493.7L971.2 493.5L971.8 493.9L972.5 494.2L973.1 493.8L973.7 493.3L974.3 493.4L975.0 493.9L975.6 493.6L976.2 493.3L976.8 493.9L977.5 493.6L978.1 493.8L978.7 494.0" fill="none" stroke="#c4c4c4" stroke-width="1.9" stroke-linejoin="round"/>
<path d="M897.6 505.4L898.2 508.9L898.9 507.9L899.5 504.2L900.1 500.1L900.7 499.1L901.4 501.0L902.0 502.8L902.6 502.4L903.2 500.6L903.9 497.8L904.5 496.3L905.1 494.9L905.7 494.6L906.4 495.2L907.0 494.8L907.6 494.7L908.2 495.1L908.8 495.1L909.5 494.6L910.1 494.9L910.7 495.1L911.3 494.6L912.0 495.0L912.6 494.6L913.2 494.8L913.8 494.9L914.5 495.9L915.1 498.4L915.7 500.0L916.3 501.4L917.0 500.0L917.6 498.2L918.2 496.7L918.8 495.6L919.5 494.7L920.1 494.9L920.7 495.0L921.3 494.6L921.9 494.5L922.6 495.2L923.2 495.0L923.8 494.6L924.4 494.9L925.1 494.9L925.7 496.3L926.3 498.2L926.9 501.3L927.6 505.2L928.2 505.4L928.8 503.2L929.4 499.3L930.1 497.3L930.7 496.4L931.3 498.7L931.9 501.9L932.6 504.7L933.2 504.0L933.8 500.4L934.4 497.1L935.0 495.5L935.7 495.0L936.3 495.0L936.9 494.5L937.5 494.8L938.2 494.6L938.8 495.2L939.4 495.4L940.0 494.6L940.7 494.5L941.3 495.0L941.9 495.0L942.5 494.5L943.2 495.2L943.8 496.2L944.4 497.1L945.0 498.9L945.7 500.7L946.3 501.1L946.9 498.9L947.5 496.9L948.1 495.4L948.8 495.2L949.4 494.9L950.0 494.7L950.6 494.7L951.3 494.4L951.9 494.6L952.5 495.3L953.1 495.1L953.8 494.7L954.4 495.3L955.0 494.8L955.6 494.6L956.3 494.4L956.9 494.5L957.5 494.5L958.1 494.6L958.7 495.2L959.4 494.7L960.0 494.6L960.6 494.9L961.2 495.3L961.9 494.8L962.5 495.1L963.1 494.8L963.7 494.9L964.4 495.0L965.0 495.6L965.6 496.1L966.2 497.2L966.9 499.4L967.5 500.6L968.1 500.5L968.7 499.5L969.4 497.3L970.0 496.1L970.6 495.5L971.2 496.8L971.8 498.6L972.5 500.9L973.1 503.2L973.7 502.3L974.3 499.7L975.0 497.0L975.6 495.3L976.2 494.7L976.8 495.1L977.5 494.6L978.1 494.6L978.7 494.8" fill="none" stroke="#c4c4c4" stroke-width="1.9" stroke-linejoin="round"/>
<path d="M978.7 494.0L979.6 494.2L980.6 494.1L981.5 494.2L982.5 494.0L983.4 494.2L984.3 494.1L985.3 494.1L986.2 494.0L987.1 494.0L988.1 494.2L989.0 494.2L989.9 494.1L990.9 494.2L991.8 494.2L992.7 494.2L993.7 494.0L994.6 494.0L995.6 494.0L996.5 494.2L997.4 494.0L998.4 494.1L999.3 494.2L1000.2 494.1L1001.2 494.1L1002.1 494.2L1003.0 494.1L1004.0 494.1L1004.9 494.1L1005.8 494.0L1006.8 494.0L1007.7 494.1L1008.6 494.0L1009.6 493.9L1010.5 494.1L1011.5 493.9L1012.4 494.2L1013.3 494.2L1014.3 494.2L1015.2 494.0L1016.1 494.0L1017.1 494.0L1018.0 494.1L1018.9 494.1L1019.9 493.9L1020.8 494.2L1021.7 494.2L1022.7 494.3L1023.6 494.1L1024.6 494.0L1025.5 494.0L1026.4 494.1L1027.4 494.1L1028.3 494.2L1029.2 493.9L1030.2 494.1L1031.1 494.2L1032.0 494.2L1033.0 494.0L1033.9 494.0L1034.8 493.5L1035.8 493.7L1036.7 493.6L1037.7 494.0L1038.6 492.6L1039.5 492.3L1040.5 492.9L1041.4 493.8L1042.3 493.2L1043.3 493.3L1044.2 492.3L1045.1 491.9L1046.1 492.2L1047.0 493.2L1047.9 494.0L1048.9 492.2L1049.8 491.7L1050.8 493.4L1051.7 493.0" fill="none" stroke="#c4c4c4" stroke-width="1.2" stroke-linejoin="round"/>
<path d="M978.7 494.4L979.6 494.4L980.6 494.4L981.5 494.4L982.5 494.4L983.4 494.5L984.3 494.4L985.3 494.5L986.2 494.3L987.1 494.4L988.1 494.4L989.0 494.4L989.9 494.5L990.9 494.4L991.8 494.6L992.7 494.6L993.7 494.4L994.6 494.6L995.6 494.6L996.5 494.6L997.4 494.4L998.4 494.5L999.3 494.5L1000.2 494.4L1001.2 494.4L1002.1 494.4L1003.0 494.4L1004.0 494.6L1004.9 494.5L1005.8 494.5L1006.8 494.5L1007.7 494.7L1008.6 494.5L1009.6 494.3L1010.5 494.6L1011.5 494.6L1012.4 494.6L1013.3 494.5L1014.3 494.4L1015.2 494.4L1016.1 494.4L1017.1 494.5L1018.0 494.4L1018.9 494.6L1019.9 494.6L1020.8 494.4L1021.7 494.6L1022.7 494.5L1023.6 494.7L1024.6 494.5L1025.5 494.6L1026.4 494.5L1027.4 494.6L1028.3 494.5L1029.2 494.4L1030.2 494.4L1031.1 494.4L1032.0 494.5L1033.0 494.5L1033.9 494.6L1034.8 494.9L1035.8 494.8L1036.7 494.8L1037.7 495.1L1038.6 496.0L1039.5 496.1L1040.5 495.8L1041.4 496.1L1042.3 495.1L1043.3 494.6L1044.2 494.5L1045.1 494.6L1046.1 494.4L1047.0 495.5L1047.9 496.4L1048.9 494.9L1049.8 495.8L1050.8 496.5L1051.7 496.3" fill="none" stroke="#c4c4c4" stroke-width="1.2" stroke-linejoin="round"/>
<path d="M829.8 593.3L831.3 590.0L832.9 587.3L834.5 579.3L836.0 579.0L837.6 576.4L839.1 575.9L840.7 576.7L842.3 570.7L843.8 571.6L845.4 570.0L846.9 572.1L848.5 571.0L850.1 576.5L851.6 581.3L853.2 582.5L854.7 576.7L856.3 581.9L857.9 578.2L859.4 578.2L861.0 584.0L862.5 578.1L864.1 583.8L865.7 576.2L867.2 574.5L868.8 580.5L870.3 575.7L871.9 574.2L873.5 580.6L875.0 574.6L876.6 579.8L878.1 569.7L879.7 569.9L881.2 564.9L882.8 577.1L884.4 574.6L885.9 567.9L887.5 565.6L889.0 572.3L890.6 559.5L892.2 558.2L893.7 568.8L895.3 574.1L896.8 565.3L898.4 568.3L900.0 563.3L901.5 565.2L903.1 567.1L904.6 574.9L906.2 574.9L907.8 570.6L909.3 567.6L910.9 574.1L912.4 572.3L914.0 574.9L915.6 571.8L917.1 574.6L918.7 580.1L920.2 584.5L921.8 587.0L923.4 588.7L924.9 590.2" fill="none" stroke="#c4c4c4" stroke-width="2.0" stroke-linejoin="round"/>
<path d="M829.8 593.3L831.3 596.0L832.9 599.5L834.5 601.6L836.0 607.7L837.6 610.3L839.1 615.1L840.7 607.4L842.3 611.5L843.8 607.5L845.4 610.7L846.9 618.0L848.5 611.3L850.1 613.1L851.6 620.6L853.2 618.5L854.7 611.2L856.3 614.6L857.9 617.6L859.4 606.1L861.0 613.8L862.5 612.8L864.1 607.6L865.7 604.3L867.2 612.4L868.8 607.2L870.3 603.5L871.9 602.8L873.5 610.5L875.0 610.2L876.6 613.9L878.1 615.1L879.7 613.9L881.2 621.3L882.8 614.9L884.4 617.3L885.9 623.8L887.5 622.5L889.0 628.1L890.6 624.2L892.2 626.0L893.7 613.1L895.3 614.4L896.8 616.1L898.4 612.3L900.0 615.2L901.5 613.3L903.1 617.2L904.6 624.3L906.2 616.7L907.8 612.8L909.3 607.8L910.9 606.4L912.4 611.9L914.0 607.7L915.6 604.8L917.1 599.9L918.7 600.7L920.2 597.0L921.8 595.7L923.4 594.5" fill="none" stroke="#c4c4c4" stroke-width="2.0" stroke-linejoin="round"/>
<path d="M931.9 593.2L932.6 593.0L933.2 593.2L933.8 593.1L934.4 593.0L935.0 592.9L935.7 592.9L936.3 592.5L936.9 591.4L937.5 588.7L938.2 585.3L938.8 583.0L939.4 583.8L940.0 586.3L940.7 588.1L941.3 587.0L941.9 582.9L942.5 579.4L943.2 579.6L943.8 583.5L944.4 587.9L945.0 591.1L945.7 592.4L946.3 592.9L946.9 593.0L947.5 593.0L948.1 593.1L948.8 593.2L949.4 593.3L950.0 593.0L950.6 592.9L951.3 593.1L951.9 592.8L952.5 592.7L953.1 592.4L953.8 591.1L954.4 589.5L955.0 587.1L955.6 584.7L956.3 583.0L956.9 582.1L957.5 582.7L958.1 584.5L958.7 586.9L959.4 588.3L960.0 588.0L960.6 585.9L961.2 582.0L961.9 578.7L962.5 578.2L963.1 580.2L963.7 583.6L964.4 585.7L965.0 584.7L965.6 582.0L966.2 580.8L966.9 582.9L967.5 586.8L968.1 590.1L968.7 592.0L969.4 592.7L970.0 593.2L970.6 592.9L971.2 593.0L971.8 593.2L972.5 593.2L973.1 593.3L973.7 593.1L974.3 593.2L975.0 593.0L975.6 593.2L976.2 593.1L976.8 593.1L977.5 593.2L978.1 593.3L978.7 593.0L979.3 592.9L980.0 593.2L980.6 593.0L981.2 592.9L981.8 592.9L982.5 592.9L983.1 593.1L983.7 593.0L984.3 593.1L984.9 592.9L985.6 593.0L986.2 592.9L986.8 592.9L987.4 593.1L988.1 593.0L988.7 593.2L989.3 593.2L989.9 592.9L990.6 593.1L991.2 593.0L991.8 593.0L992.4 593.2" fill="none" stroke="#c4c4c4" stroke-width="1.9" stroke-linejoin="round"/>
<path d="M931.9 593.5L932.6 593.5L933.2 593.7L933.8 593.7L934.4 594.5L935.0 596.3L935.7 598.9L936.3 601.0L936.9 601.1L937.5 599.4L938.2 597.9L938.8 598.3L939.4 601.2L940.0 604.5L940.7 605.5L941.3 602.8L941.9 598.7L942.5 595.8L943.2 594.3L943.8 593.5L944.4 593.4L945.0 593.3L945.7 593.7L946.3 593.4L946.9 593.6L947.5 593.8L948.1 593.7L948.8 594.3L949.4 595.4L950.0 597.1L950.6 598.5L951.3 599.4L951.9 599.1L952.5 597.9L953.1 596.8L953.8 596.3L954.4 596.6L955.0 597.7L955.6 599.6L956.3 601.1L956.9 601.6L957.5 600.9L958.1 599.7L958.7 597.8L959.4 596.1L960.0 594.9L960.6 594.1L961.2 593.7L961.9 593.7L962.5 593.6L963.1 593.5L963.7 593.6L964.4 593.7L965.0 593.4L965.6 593.4L966.2 593.4L966.9 593.3L967.5 593.6L968.1 593.6L968.7 593.6L969.4 593.7L970.0 593.5L970.6 593.4L971.2 593.4L971.8 593.4L972.5 593.6L973.1 593.6L973.7 593.4L974.3 593.5L975.0 593.4L975.6 593.5L976.2 593.4L976.8 593.4L977.5 593.6L978.1 593.9L978.7 594.4L979.3 595.9L980.0 598.5L980.6 600.8L981.2 601.3L981.8 599.8L982.5 597.7L983.1 596.8L983.7 597.9L984.3 601.1L984.9 604.6L985.6 606.4L986.2 605.9L986.8 602.7L987.4 599.0L988.1 596.2L988.7 594.7L989.3 593.9L989.9 593.6L990.6 593.5L991.2 593.5L991.8 593.4L992.4 593.5" fill="none" stroke="#c4c4c4" stroke-width="1.9" stroke-linejoin="round"/>
<path d="M802.5 494.3H1052.0M802.5 593.3H1052.0" stroke="#bdbdbd" stroke-width="1.5"/>
<path d="M927.2 444.9V643.5" stroke="#f48aa0" stroke-width="0.7" stroke-dasharray="0.9 1.1"/>
<rect x="802.5" y="444.9" width="249.5" height="198.60000000000002" fill="none" stroke="#333333" stroke-width="1.1"/>
<path d="M802.5 543.8H1052.0" stroke="#333333" stroke-width="1.1"/>
<path d="M802.5 643.5v-3.5M818.1 643.5v-2M833.7 643.5v-3.5M849.3 643.5v-2M864.9 643.5v-3.5M880.5 643.5v-2M896.1 643.5v-3.5M911.7 643.5v-2M927.2 643.5v-3.5M942.8 643.5v-2M958.4 643.5v-3.5M974.0 643.5v-2M989.6 643.5v-3.5M1005.2 643.5v-2M1020.8 643.5v-3.5M1036.4 643.5v-2M1052.0 643.5v-3.5" stroke="#333333" stroke-width="0.9" fill="none"/>
<text x="801.5" y="656.8" font-size="10.8" fill="#555" text-anchor="middle">-8</text>
<text x="832.7" y="656.8" font-size="10.8" fill="#555" text-anchor="middle">-6</text>
<text x="863.9" y="656.8" font-size="10.8" fill="#555" text-anchor="middle">-4</text>
<text x="895.1" y="656.8" font-size="10.8" fill="#555" text-anchor="middle">-2</text>
<text x="927.2" y="656.8" font-size="10.8" fill="#555" text-anchor="middle">0</text>
<text x="958.4" y="656.8" font-size="10.8" fill="#555" text-anchor="middle">2</text>
<text x="989.6" y="656.8" font-size="10.8" fill="#555" text-anchor="middle">4</text>
<text x="1020.8" y="656.8" font-size="10.8" fill="#555" text-anchor="middle">6</text>
<text x="1052.0" y="656.8" font-size="10.8" fill="#555" text-anchor="middle">8</text>
<text x="882.2" y="673.5" font-size="14.4" fill="#333" textLength="80.3" lengthAdjust="spacingAndGlyphs" >Energy (eV)</text>
<text x="868.8" y="708.6" font-size="14.6" fill="#2a2a2a" textLength="154.9" lengthAdjust="spacingAndGlyphs" >Diffusion coordinations</text>
<text transform="translate(792.3,541.0) rotate(-90)" font-size="14" fill="#2e2e2e" text-anchor="middle" textLength="147.5" lengthAdjust="spacingAndGlyphs" >Density of states (eV)</text>
<text x="806.3" y="456.7" font-size="11.2" fill="#3aaa3a" textLength="34.5" lengthAdjust="spacingAndGlyphs" >NMCD</text>
<text x="907.5" y="455.3" font-size="12" fill="#222" font-style="italic">E<tspan dy="2.6" font-size="7.5">F</tspan></text>
<text x="807" y="537.5" font-size="10.4" fill="#333" textLength="61.3" lengthAdjust="spacingAndGlyphs">Li<tspan dy="2" font-size="6.5">6</tspan><tspan dy="-2">Mn</tspan><tspan dy="2" font-size="6.5">3</tspan><tspan dy="-2">NiO</tspan><tspan dy="2" font-size="6.5">10</tspan></text>
<text x="806.3" y="556.7" font-size="11.2" fill="#f5a240" textLength="32.4" lengthAdjust="spacingAndGlyphs" >NMPR</text>
<text x="807" y="634.3" font-size="10.4" fill="#333" textLength="77" lengthAdjust="spacingAndGlyphs">Li<tspan dy="2" font-size="6.5">5</tspan><tspan dy="-2">NaMn</tspan><tspan dy="2" font-size="6.5">3</tspan><tspan dy="-2">NiO</tspan><tspan dy="2" font-size="6.5">9</tspan><tspan dy="-2">F</tspan></text>
<path d="M980.6 451.7H1010.2" stroke="#a672d6" stroke-width="2"/>
<text x="1013.8" y="456.0" font-size="11.8" fill="#caa9ea" textLength="27.3" lengthAdjust="spacingAndGlyphs" >Ni 3d</text>
<path d="M980.6 468H1010.2" stroke="#45a2e4" stroke-width="2"/>
<text x="1013.8" y="472.3" font-size="11.8" fill="#8ec6f2" textLength="33.0" lengthAdjust="spacingAndGlyphs" >Mn 3d</text>
<path d="M980.6 484.3H1010.2" stroke="#c6c6c6" stroke-width="2"/>
<text x="1013.8" y="488.6" font-size="11.8" fill="#d4d4d4" textLength="24.4" lengthAdjust="spacingAndGlyphs" >O 2p</text>
<path d="M993.9 504.3L997.5 510.0L1001.1 504.3M1001.1 504.3L1004.8 510.0L1008.4 504.3M1008.4 504.3L1012.0 510.0L1015.7 504.3M1015.7 504.3L1019.3 510.0L1022.9 504.3M1022.9 504.3L1026.6 510.0L1030.2 504.3M1030.2 504.3L1033.8 510.0L1037.5 504.3M1037.5 504.3L1041.1 510.0L1044.8 504.3M993.9 515.9L997.5 510.0L1001.1 515.9M1001.1 515.9L1004.8 510.0L1008.4 515.9M1008.4 515.9L1012.0 510.0L1015.7 515.9M1015.7 515.9L1019.3 510.0L1022.9 515.9M1022.9 515.9L1026.6 510.0L1030.2 515.9M1030.2 515.9L1033.8 510.0L1037.5 515.9M1037.5 515.9L1041.1 510.0L1044.8 515.9M993.9 515.9L997.5 521.9L1001.1 515.9M1001.1 515.9L1004.8 521.9L1008.4 515.9M1008.4 515.9L1012.0 521.9L1015.7 515.9M1015.7 515.9L1019.3 521.9L1022.9 515.9M1022.9 515.9L1026.6 521.9L1030.2 515.9M1030.2 515.9L1033.8 521.9L1037.5 515.9M1037.5 515.9L1041.1 521.9L1044.8 515.9M993.9 527.9L997.5 521.9L1001.1 527.9M1001.1 527.9L1004.8 521.9L1008.4 527.9M1008.4 527.9L1012.0 521.9L1015.7 527.9M1015.7 527.9L1019.3 521.9L1022.9 527.9M1022.9 527.9L1026.6 521.9L1030.2 527.9M1030.2 527.9L1033.8 521.9L1037.5 527.9M1037.5 527.9L1041.1 521.9L1044.8 527.9M993.9 527.9L997.5 534.1L1001.1 527.9M1001.1 527.9L1004.8 534.1L1008.4 527.9M1008.4 527.9L1012.0 534.1L1015.7 527.9M1015.7 527.9L1019.3 534.1L1022.9 527.9M1022.9 527.9L1026.6 534.1L1030.2 527.9M1030.2 527.9L1033.8 534.1L1037.5 527.9M1037.5 527.9L1041.1 534.1L1044.8 527.9M993.9 539.6L997.5 534.1L1001.1 539.6M1001.1 539.6L1004.8 534.1L1008.4 539.6M1008.4 539.6L1012.0 534.1L1015.7 539.6M1015.7 539.6L1019.3 534.1L1022.9 539.6M1022.9 539.6L1026.6 534.1L1030.2 539.6M1030.2 539.6L1033.8 534.1L1037.5 539.6M1037.5 539.6L1041.1 534.1L1044.8 539.6M993.9 504.3l-1.6 -2.2M993.9 504.3l1.6 -2.2M1001.1 504.3l-1.6 -2.2M1001.1 504.3l1.6 -2.2M1008.4 504.3l-1.6 -2.2M1008.4 504.3l1.6 -2.2M1015.7 504.3l-1.6 -2.2M1015.7 504.3l1.6 -2.2M1022.9 504.3l-1.6 -2.2M1022.9 504.3l1.6 -2.2M1030.2 504.3l-1.6 -2.2M1030.2 504.3l1.6 -2.2M1037.5 504.3l-1.6 -2.2M1037.5 504.3l1.6 -2.2M1044.8 504.3l-1.6 -2.2M1044.8 504.3l1.6 -2.2M993.9 539.6l-1.6 2.2M993.9 539.6l1.6 2.2M1001.1 539.6l-1.6 2.2M1001.1 539.6l1.6 2.2M1008.4 539.6l-1.6 2.2M1008.4 539.6l1.6 2.2M1015.7 539.6l-1.6 2.2M1015.7 539.6l1.6 2.2M1022.9 539.6l-1.6 2.2M1022.9 539.6l1.6 2.2M1030.2 539.6l-1.6 2.2M1030.2 539.6l1.6 2.2M1037.5 539.6l-1.6 2.2M1037.5 539.6l1.6 2.2M1044.8 539.6l-1.6 2.2M1044.8 539.6l1.6 2.2M993.9 504.3l-2.6 -1.8M993.9 504.3l-2.6 1.8M1044.8 504.3l2.6 -1.8M1044.8 504.3l2.6 1.8M993.9 515.9l-2.6 -1.8M993.9 515.9l-2.6 1.8M1044.8 515.9l2.6 -1.8M1044.8 515.9l2.6 1.8M993.9 527.9l-2.6 -1.8M993.9 527.9l-2.6 1.8M1044.8 527.9l2.6 -1.8M1044.8 527.9l2.6 1.8M993.9 539.6l-2.6 -1.8M993.9 539.6l-2.6 1.8M1044.8 539.6l2.6 -1.8M1044.8 539.6l2.6 1.8" stroke="#e3362f" stroke-width="1.15" fill="none"/><circle cx="993.9" cy="504.3" r="1.35" fill="#dc2020"/><circle cx="1001.1" cy="504.3" r="1.35" fill="#dc2020"/><circle cx="1008.4" cy="504.3" r="1.35" fill="#dc2020"/><circle cx="1015.7" cy="504.3" r="1.35" fill="#dc2020"/><circle cx="1022.9" cy="504.3" r="1.35" fill="#dc2020"/><circle cx="1030.2" cy="504.3" r="1.35" fill="#dc2020"/><circle cx="1037.5" cy="504.3" r="1.35" fill="#dc2020"/><circle cx="1044.8" cy="504.3" r="1.35" fill="#dc2020"/><circle cx="993.9" cy="515.9" r="1.35" fill="#dc2020"/><circle cx="1001.1" cy="515.9" r="1.35" fill="#dc2020"/><circle cx="1008.4" cy="515.9" r="1.35" fill="#dc2020"/><circle cx="1015.7" cy="515.9" r="1.35" fill="#dc2020"/><circle cx="1022.9" cy="515.9" r="1.35" fill="#dc2020"/><circle cx="1030.2" cy="515.9" r="1.35" fill="#dc2020"/><circle cx="1037.5" cy="515.9" r="1.35" fill="#dc2020"/><circle cx="1044.8" cy="515.9" r="1.35" fill="#dc2020"/><circle cx="993.9" cy="527.9" r="1.35" fill="#dc2020"/><circle cx="1001.1" cy="527.9" r="1.35" fill="#dc2020"/><circle cx="1008.4" cy="527.9" r="1.35" fill="#dc2020"/><circle cx="1015.7" cy="527.9" r="1.35" fill="#dc2020"/><circle cx="1022.9" cy="527.9" r="1.35" fill="#dc2020"/><circle cx="1030.2" cy="527.9" r="1.35" fill="#dc2020"/><circle cx="1037.5" cy="527.9" r="1.35" fill="#dc2020"/><circle cx="1044.8" cy="527.9" r="1.35" fill="#dc2020"/><circle cx="993.9" cy="539.6" r="1.35" fill="#dc2020"/><circle cx="1001.1" cy="539.6" r="1.35" fill="#dc2020"/><circle cx="1008.4" cy="539.6" r="1.35" fill="#dc2020"/><circle cx="1015.7" cy="539.6" r="1.35" fill="#dc2020"/><circle cx="1022.9" cy="539.6" r="1.35" fill="#dc2020"/><circle cx="1030.2" cy="539.6" r="1.35" fill="#dc2020"/><circle cx="1037.5" cy="539.6" r="1.35" fill="#dc2020"/><circle cx="1044.8" cy="539.6" r="1.35" fill="#dc2020"/><circle cx="997.5" cy="510.0" r="2.4" fill="#e4f6dc" stroke="#5cb84c" stroke-width="1.7"/><circle cx="1004.8" cy="510.0" r="2.4" fill="#e4a0e2" stroke="#a022a4" stroke-width="1.7"/><circle cx="1012.0" cy="510.0" r="2.4" fill="#e4a0e2" stroke="#a022a4" stroke-width="1.7"/><circle cx="1019.3" cy="510.0" r="2.4" fill="#e4f6dc" stroke="#5cb84c" stroke-width="1.7"/><circle cx="1026.6" cy="510.0" r="2.4" fill="#f2f2f2" stroke="#b4b4b4" stroke-width="1.7"/><circle cx="1033.8" cy="510.0" r="2.4" fill="#e4a0e2" stroke="#a022a4" stroke-width="1.7"/><circle cx="1041.1" cy="510.0" r="2.4" fill="#e4f6dc" stroke="#5cb84c" stroke-width="1.7"/><circle cx="997.5" cy="521.9" r="2.4" fill="#e4f6dc" stroke="#5cb84c" stroke-width="1.7"/><circle cx="1004.8" cy="521.9" r="2.4" fill="#e4f6dc" stroke="#5cb84c" stroke-width="1.7"/><circle cx="1012.0" cy="521.9" r="2.4" fill="#e4f6dc" stroke="#5cb84c" stroke-width="1.7"/><circle cx="1019.3" cy="521.9" r="2.4" fill="#e4f6dc" stroke="#5cb84c" stroke-width="1.7"/><circle cx="1026.6" cy="521.9" r="2.4" fill="#e4f6dc" stroke="#5cb84c" stroke-width="1.7"/><circle cx="1033.8" cy="521.9" r="2.4" fill="#e4f6dc" stroke="#5cb84c" stroke-width="1.7"/><circle cx="1041.1" cy="521.9" r="2.4" fill="#e4f6dc" stroke="#5cb84c" stroke-width="1.7"/><circle cx="997.5" cy="534.1" r="2.4" fill="#e4f6dc" stroke="#5cb84c" stroke-width="1.7"/><circle cx="1004.8" cy="534.1" r="2.4" fill="#e4a0e2" stroke="#a022a4" stroke-width="1.7"/><circle cx="1012.0" cy="534.1" r="2.4" fill="#e4a0e2" stroke="#a022a4" stroke-width="1.7"/><circle cx="1019.3" cy="534.1" r="2.4" fill="#e4f6dc" stroke="#5cb84c" stroke-width="1.7"/><circle cx="1026.6" cy="534.1" r="2.4" fill="#f2f2f2" stroke="#b4b4b4" stroke-width="1.7"/><circle cx="1033.8" cy="534.1" r="2.4" fill="#e4a0e2" stroke="#a022a4" stroke-width="1.7"/><circle cx="1041.1" cy="534.1" r="2.4" fill="#e4f6dc" stroke="#5cb84c" stroke-width="1.7"/>
<path d="M994.7 602.4L998.3 607.4L1001.9 602.4M1001.9 602.4L1005.5 607.4L1009.1 602.4M1009.1 602.4L1012.7 607.4L1016.4 602.4M1016.4 602.4L1020.0 607.4L1023.6 602.4M1023.6 602.4L1027.2 607.4L1030.8 602.4M1030.8 602.4L1034.4 607.4L1038.0 602.4M1038.0 602.4L1041.6 607.4L1045.2 602.4M994.7 613.4L998.3 607.4L1001.9 613.4M1001.9 613.4L1005.5 607.4L1009.1 613.4M1009.1 613.4L1012.7 607.4L1016.4 613.4M1016.4 613.4L1020.0 607.4L1023.6 613.4M1023.6 613.4L1027.2 607.4L1030.8 613.4M1030.8 613.4L1034.4 607.4L1038.0 613.4M1038.0 613.4L1041.6 607.4L1045.2 613.4M994.7 613.4L998.3 619.6L1001.9 613.4M1001.9 613.4L1005.5 619.6L1009.1 613.4M1009.1 613.4L1012.7 619.6L1016.4 613.4M1016.4 613.4L1020.0 619.6L1023.6 613.4M1023.6 613.4L1027.2 619.6L1030.8 613.4M1030.8 613.4L1034.4 619.6L1038.0 613.4M1038.0 613.4L1041.6 619.6L1045.2 613.4M994.7 625.6L998.3 619.6L1001.9 625.6M1001.9 625.6L1005.5 619.6L1009.1 625.6M1009.1 625.6L1012.7 619.6L1016.4 625.6M1016.4 625.6L1020.0 619.6L1023.6 625.6M1023.6 625.6L1027.2 619.6L1030.8 625.6M1030.8 625.6L1034.4 619.6L1038.0 625.6M1038.0 625.6L1041.6 619.6L1045.2 625.6M994.7 625.6L998.3 631.5L1001.9 625.6M1001.9 625.6L1005.5 631.5L1009.1 625.6M1009.1 625.6L1012.7 631.5L1016.4 625.6M1016.4 625.6L1020.0 631.5L1023.6 625.6M1023.6 625.6L1027.2 631.5L1030.8 625.6M1030.8 625.6L1034.4 631.5L1038.0 625.6M1038.0 625.6L1041.6 631.5L1045.2 625.6M994.7 636.9L998.3 631.5L1001.9 636.9M1001.9 636.9L1005.5 631.5L1009.1 636.9M1009.1 636.9L1012.7 631.5L1016.4 636.9M1016.4 636.9L1020.0 631.5L1023.6 636.9M1023.6 636.9L1027.2 631.5L1030.8 636.9M1030.8 636.9L1034.4 631.5L1038.0 636.9M1038.0 636.9L1041.6 631.5L1045.2 636.9M994.7 602.4l-1.6 -2.2M994.7 602.4l1.6 -2.2M1001.9 602.4l-1.6 -2.2M1001.9 602.4l1.6 -2.2M1009.1 602.4l-1.6 -2.2M1009.1 602.4l1.6 -2.2M1016.4 602.4l-1.6 -2.2M1016.4 602.4l1.6 -2.2M1023.6 602.4l-1.6 -2.2M1023.6 602.4l1.6 -2.2M1030.8 602.4l-1.6 -2.2M1030.8 602.4l1.6 -2.2M1038.0 602.4l-1.6 -2.2M1038.0 602.4l1.6 -2.2M1045.2 602.4l-1.6 -2.2M1045.2 602.4l1.6 -2.2M994.7 636.9l-1.6 2.2M994.7 636.9l1.6 2.2M1001.9 636.9l-1.6 2.2M1001.9 636.9l1.6 2.2M1009.1 636.9l-1.6 2.2M1009.1 636.9l1.6 2.2M1016.4 636.9l-1.6 2.2M1016.4 636.9l1.6 2.2M1023.6 636.9l-1.6 2.2M1023.6 636.9l1.6 2.2M1030.8 636.9l-1.6 2.2M1030.8 636.9l1.6 2.2M1038.0 636.9l-1.6 2.2M1038.0 636.9l1.6 2.2M1045.2 636.9l-1.6 2.2M1045.2 636.9l1.6 2.2M994.7 602.4l-2.6 -1.8M994.7 602.4l-2.6 1.8M1045.2 602.4l2.6 -1.8M1045.2 602.4l2.6 1.8M994.7 613.4l-2.6 -1.8M994.7 613.4l-2.6 1.8M1045.2 613.4l2.6 -1.8M1045.2 613.4l2.6 1.8M994.7 625.6l-2.6 -1.8M994.7 625.6l-2.6 1.8M1045.2 625.6l2.6 -1.8M1045.2 625.6l2.6 1.8M994.7 636.9l-2.6 -1.8M994.7 636.9l-2.6 1.8M1045.2 636.9l2.6 -1.8M1045.2 636.9l2.6 1.8" stroke="#e3362f" stroke-width="1.15" fill="none"/><circle cx="994.7" cy="602.4" r="1.35" fill="#dc2020"/><circle cx="1001.9" cy="602.4" r="1.35" fill="#dc2020"/><circle cx="1009.1" cy="602.4" r="1.35" fill="#dc2020"/><circle cx="1016.4" cy="602.4" r="1.35" fill="#dc2020"/><circle cx="1023.6" cy="602.4" r="1.35" fill="#dc2020"/><circle cx="1030.8" cy="602.4" r="1.35" fill="#dc2020"/><circle cx="1038.0" cy="602.4" r="1.35" fill="#dc2020"/><circle cx="1045.2" cy="602.4" r="1.35" fill="#dc2020"/><circle cx="994.7" cy="613.4" r="1.35" fill="#dc2020"/><circle cx="1001.9" cy="613.4" r="1.35" fill="#dc2020"/><circle cx="1009.1" cy="613.4" r="1.35" fill="#dc2020"/><circle cx="1016.4" cy="613.4" r="1.35" fill="#dc2020"/><circle cx="1023.6" cy="613.4" r="1.35" fill="#dc2020"/><circle cx="1030.8" cy="613.4" r="1.35" fill="#dc2020"/><circle cx="1038.0" cy="613.4" r="1.35" fill="#dc2020"/><circle cx="1045.2" cy="613.4" r="1.35" fill="#dc2020"/><circle cx="994.7" cy="625.6" r="1.35" fill="#dc2020"/><circle cx="1001.9" cy="625.6" r="1.35" fill="#dc2020"/><circle cx="1009.1" cy="625.6" r="1.35" fill="#dc2020"/><circle cx="1016.4" cy="625.6" r="1.35" fill="#dc2020"/><circle cx="1023.6" cy="625.6" r="1.35" fill="#dc2020"/><circle cx="1030.8" cy="625.6" r="1.35" fill="#dc2020"/><circle cx="1038.0" cy="625.6" r="1.35" fill="#dc2020"/><circle cx="1045.2" cy="625.6" r="1.35" fill="#dc2020"/><circle cx="994.7" cy="636.9" r="1.35" fill="#dc2020"/><circle cx="1001.9" cy="636.9" r="1.35" fill="#dc2020"/><circle cx="1009.1" cy="636.9" r="1.35" fill="#dc2020"/><circle cx="1016.4" cy="636.9" r="1.35" fill="#dc2020"/><circle cx="1023.6" cy="636.9" r="1.35" fill="#dc2020"/><circle cx="1030.8" cy="636.9" r="1.35" fill="#dc2020"/><circle cx="1038.0" cy="636.9" r="1.35" fill="#dc2020"/><circle cx="1045.2" cy="636.9" r="1.35" fill="#dc2020"/><circle cx="998.3" cy="607.4" r="2.4" fill="#e4f6dc" stroke="#5cb84c" stroke-width="1.7"/><circle cx="1005.5" cy="607.4" r="2.4" fill="#e4a0e2" stroke="#a022a4" stroke-width="1.7"/><circle cx="1012.7" cy="607.4" r="2.4" fill="#e4a0e2" stroke="#a022a4" stroke-width="1.7"/><circle cx="1020.0" cy="607.4" r="2.4" fill="#e4f6dc" stroke="#5cb84c" stroke-width="1.7"/><circle cx="1027.2" cy="607.4" r="2.4" fill="#f2f2f2" stroke="#b4b4b4" stroke-width="1.7"/><circle cx="1034.4" cy="607.4" r="2.4" fill="#e4a0e2" stroke="#a022a4" stroke-width="1.7"/><circle cx="1041.6" cy="607.4" r="2.4" fill="#e4f6dc" stroke="#5cb84c" stroke-width="1.7"/><circle cx="998.3" cy="619.6" r="2.4" fill="#e4f6dc" stroke="#5cb84c" stroke-width="1.7"/><circle cx="1005.5" cy="619.6" r="2.4" fill="#e4f6dc" stroke="#5cb84c" stroke-width="1.7"/><circle cx="1012.7" cy="619.6" r="2.4" fill="#fff27a" stroke="#e6cc1c" stroke-width="1.7"/><circle cx="1020.0" cy="619.6" r="2.4" fill="#e4f6dc" stroke="#5cb84c" stroke-width="1.7"/><circle cx="1027.2" cy="619.6" r="2.4" fill="#e4f6dc" stroke="#5cb84c" stroke-width="1.7"/><circle cx="1034.4" cy="619.6" r="2.4" fill="#e4f6dc" stroke="#5cb84c" stroke-width="1.7"/><circle cx="1041.6" cy="619.6" r="2.4" fill="#e4f6dc" stroke="#5cb84c" stroke-width="1.7"/><circle cx="998.3" cy="631.5" r="2.4" fill="#e4f6dc" stroke="#5cb84c" stroke-width="1.7"/><circle cx="1005.5" cy="631.5" r="2.4" fill="#e4a0e2" stroke="#a022a4" stroke-width="1.7"/><circle cx="1012.7" cy="631.5" r="2.4" fill="#e4a0e2" stroke="#a022a4" stroke-width="1.7"/><circle cx="1020.0" cy="631.5" r="2.4" fill="#e4f6dc" stroke="#5cb84c" stroke-width="1.7"/><circle cx="1027.2" cy="631.5" r="2.4" fill="#f2f2f2" stroke="#b4b4b4" stroke-width="1.7"/><circle cx="1034.4" cy="631.5" r="2.4" fill="#e4a0e2" stroke="#a022a4" stroke-width="1.7"/><circle cx="1041.6" cy="631.5" r="2.4" fill="#e4f6dc" stroke="#5cb84c" stroke-width="1.7"/>
<circle cx="998.3" cy="601.9" r="1.5" fill="#b0b0dc"/>
<circle cx="1041.6" cy="601.4" r="1.5" fill="#b0b0dc"/>
<circle cx="998.3" cy="625.8" r="1.5" fill="#b0b0dc"/>
<circle cx="1041.6" cy="625.8" r="1.5" fill="#b0b0dc"/>
<circle cx="1012.7" cy="619.6" r="3.5" fill="url(#gYel)"/>
<path d="M651.3 588.5V746.4" stroke="#555" stroke-width="1.3"/><circle cx="651.3" cy="588.8" r="1.2" fill="#555"/>
<path d="M594.5 746.4H712" stroke="#555" stroke-width="1.2"/><path d="M596.6 745.1L593.6 746.4L596.6 747.7ZM709.8 745.1L712.8 746.4L709.8 747.7Z" fill="#555" stroke="#555" stroke-width="0.5"/>
<text x="662.3" y="597.7" font-size="10.6" fill="#2fa84a" textLength="33.3" lengthAdjust="spacingAndGlyphs" >NMCD</text>
<text x="588.5" y="634.1" font-size="10.6" fill="#f3708a" textLength="60.2" lengthAdjust="spacingAndGlyphs" >More overlap</text>
<text x="656.4" y="638" font-size="10.8" fill="#58a8e4" textLength="42.3" lengthAdjust="spacingAndGlyphs">Mn 3d e<tspan dy="2.2" font-size="7">g</tspan></text>
<path d="M651.3 617.4A60.7 17.6 0 0 1 651.3 652.6" fill="none" stroke="#5aaee8" stroke-width="1.2"/>
<path d="M651.3 638.7C630 638,610.3 644,610.3 651.8C610.3 659,630 664,651.3 663.8" fill="none" stroke="#5aaee8" stroke-width="1.2"/>
<text x="590.5" y="668.7" font-size="10.8" fill="#58a8e4" textLength="30" lengthAdjust="spacingAndGlyphs">Mn e<tspan dy="2.2" font-size="7">g</tspan><tspan dy="-6" font-size="7">*</tspan></text>
<path d="M618.7 660.3L630 656.7M621.3 669.5L632.6 672.6" stroke="#444" stroke-width="0.9"/><circle cx="630" cy="656.7" r="0.9" fill="#444"/>
<path d="M651.3 674.6A48.7 12.4 0 0 0 651.3 699.5" fill="none" stroke="#e2e2e2" stroke-width="1.2"/>
<path d="M651.3 708.5A46.2 12.5 0 0 0 651.3 733.6" fill="none" stroke="#e6e6e6" stroke-width="1.2"/>
<text x="617.2" y="694.4" font-size="10.6" fill="#d9d9d9" textLength="32.3" lengthAdjust="spacingAndGlyphs" >Li-O-Li</text>
<text x="622.3" y="726.4" font-size="10.6" fill="#dddddd" textLength="22.6" lengthAdjust="spacingAndGlyphs" >O 2P</text>
<path d="M651.3 665.4C640 665.6,630.8 669.5,630.8 673.5C630.8 678,640 681.3,651.3 681.5Z" fill="url(#hatch)" stroke="#4a9ae0" stroke-width="1"/>
<path d="M609.5 674.4H697.4" stroke="#7fdc9c" stroke-width="1.1" stroke-dasharray="2.6 2.2"/>
<text x="602.6" y="743.8" font-size="10.8" fill="#333" textLength="36.4" lengthAdjust="spacingAndGlyphs" >Spin Up</text>
<text x="657.7" y="743.8" font-size="10.8" fill="#333" textLength="50.8" lengthAdjust="spacingAndGlyphs" >Spin Down</text>
<path d="M683.3 680.8L668.5 695.6M683.3 680.8L698.2 695.6M683.3 680.8L665.4 712.8M683.3 680.8L702.6 712.8M668.5 695.6L698.2 695.6M668.5 695.6L665.4 712.8M698.2 695.6L702.6 712.8M665.4 712.8L702.6 712.8M665.4 712.8L684.1 725.9M702.6 712.8L684.1 725.9M668.5 695.6L684.1 725.9M698.2 695.6L684.1 725.9M668.5 695.6L702.6 712.8M698.2 695.6L665.4 712.8" stroke="#4a4a4a" stroke-width="0.75" fill="none"/>
<circle cx="683.3" cy="703.3" r="7.3" fill="url(#gPink)"/>
<text x="683.6" y="705.6" font-size="6.4" fill="#7a2c5c" text-anchor="middle">Mn<tspan dy="-2.2" font-size="4">3+</tspan></text>
<circle cx="683.3" cy="680.8" r="3.4" fill="url(#gRed)"/>
<circle cx="668.5" cy="695.6" r="4.2" fill="url(#gRed)"/>
<circle cx="698.2" cy="695.6" r="4.2" fill="url(#gRed)"/>
<circle cx="665.4" cy="712.8" r="4.6" fill="url(#gRed)"/>
<circle cx="702.6" cy="712.8" r="4.6" fill="url(#gRed)"/>
<circle cx="684.1" cy="725.9" r="3.7" fill="url(#gBlueAt)"/>
<text x="483.8" y="248.0" font-size="18.6" fill="#1a1a1a" textLength="155.7" lengthAdjust="spacingAndGlyphs" >Improved kinetics</text>
<rect x="449.2" y="292.4" width="12.6" height="86.3" fill="url(#gPurB)" stroke="#3a3a3a" stroke-width="0.8"/>
<rect x="461.8" y="284.0" width="13.5" height="94.7" fill="url(#gYelB)" stroke="#222" stroke-width="1.1"/>
<path d="M466.1 282.0V276.8H463.6L468.9 271.4L474.2 276.8H471.7V282.0Z" fill="#d9627b"/>
<rect x="480.9" y="306.4" width="12.6" height="72.3" fill="url(#gPurB)" stroke="#3a3a3a" stroke-width="0.8"/>
<rect x="493.5" y="288.5" width="13.2" height="90.2" fill="url(#gYelB)" stroke="#222" stroke-width="1.1"/>
<path d="M497.6 286.5V281.3H495.1L500.4 275.9L505.7 281.3H503.2V286.5Z" fill="#d9627b"/>
<rect x="512.6" y="315.7" width="12.6" height="63.0" fill="url(#gPurB)" stroke="#3a3a3a" stroke-width="0.8"/>
<rect x="525.2" y="293.0" width="13.2" height="85.7" fill="url(#gYelB)" stroke="#222" stroke-width="1.1"/>
<path d="M529.3 291.0V285.8H526.8L532.1 280.4L537.4 285.8H534.9V291.0Z" fill="#d9627b"/>
<rect x="544.5" y="325.5" width="12.6" height="53.2" fill="url(#gPurB)" stroke="#3a3a3a" stroke-width="0.8"/>
<rect x="557.1" y="299.4" width="13.5" height="79.3" fill="url(#gYelB)" stroke="#222" stroke-width="1.1"/>
<path d="M561.4 297.4V292.2H558.9L564.1 286.8L569.4 292.2H566.9V297.4Z" fill="#d9627b"/>
<rect x="576.2" y="335.3" width="12.6" height="43.4" fill="url(#gPurB)" stroke="#3a3a3a" stroke-width="0.8"/>
<rect x="588.8" y="308.1" width="13.2" height="70.6" fill="url(#gYelB)" stroke="#222" stroke-width="1.1"/>
<path d="M592.9 306.1V300.9H590.4L595.7 295.5L601.0 300.9H598.5V306.1Z" fill="#d9627b"/>
<rect x="607.9" y="354.9" width="12.6" height="23.8" fill="url(#gPurB)" stroke="#3a3a3a" stroke-width="0.8"/>
<rect x="620.5" y="325.5" width="13.2" height="53.2" fill="url(#gYelB)" stroke="#222" stroke-width="1.1"/>
<path d="M624.6 323.5V318.3H622.1L627.4 312.9L632.7 318.3H630.2V323.5Z" fill="#d9627b"/>
<rect x="639.5" y="370.3" width="12.4" height="8.4" fill="url(#gPurB)" stroke="#3a3a3a" stroke-width="0.8"/>
<rect x="651.9" y="343.7" width="13.4" height="35.0" fill="url(#gYelB)" stroke="#222" stroke-width="1.1"/>
<path d="M656.1 341.7V336.5H653.6L658.9 331.1L664.2 336.5H661.7V341.7Z" fill="#d9627b"/>
<path d="M447.3 253V378.7H684" fill="none" stroke="#222" stroke-width="1.1"/>
<path d="M444.1 258.4L447.3 252.6L450.5 258.4" fill="none" stroke="#222" stroke-width="1"/>
<path d="M679.5 375.4L685.3 378.7L679.5 382.0" fill="none" stroke="#222" stroke-width="1"/>
<text x="426.2" y="382.6" font-size="11.2" fill="#555" textLength="16.2" lengthAdjust="spacingAndGlyphs" >3.0</text>
<text x="426.2" y="350.8" font-size="11.2" fill="#555" textLength="16.2" lengthAdjust="spacingAndGlyphs" >3.2</text>
<text x="426.2" y="319.1" font-size="11.2" fill="#555" textLength="16.2" lengthAdjust="spacingAndGlyphs" >3.4</text>
<text x="426.2" y="287.3" font-size="11.2" fill="#555" textLength="16.2" lengthAdjust="spacingAndGlyphs" >3.6</text>
<path d="M447.3 378.7h3.5M447.3 362.8h2M447.3 346.9h3.5M447.3 331.0h2M447.3 315.2h3.5M447.3 299.3h2M447.3 283.4h3.5" stroke="#222" stroke-width="0.9" fill="none"/>
<text x="448.7" y="395.0" font-size="11.2" fill="#444" textLength="23.8" lengthAdjust="spacingAndGlyphs" >0.1 C</text>
<text x="479.5" y="395.0" font-size="11.2" fill="#444" textLength="25.2" lengthAdjust="spacingAndGlyphs" >0.2 C</text>
<text x="515.9" y="395.0" font-size="11.2" fill="#444" textLength="26.1" lengthAdjust="spacingAndGlyphs" >0.5 C</text>
<text x="555.2" y="395.0" font-size="11.2" fill="#444" textLength="14.0" lengthAdjust="spacingAndGlyphs" >1 C</text>
<text x="587.4" y="395.0" font-size="11.2" fill="#444" textLength="16.3" lengthAdjust="spacingAndGlyphs" >2 C</text>
<text x="626.1" y="395.0" font-size="11.2" fill="#444" textLength="16.0" lengthAdjust="spacingAndGlyphs" >5 C</text>
<text x="655.5" y="395.0" font-size="11.2" fill="#444" textLength="20.2" lengthAdjust="spacingAndGlyphs" >10 C</text>
<text x="537.0" y="409.6" font-size="12.6" fill="#2e2e2e" textLength="35.8" lengthAdjust="spacingAndGlyphs" >C rate</text>
<text transform="translate(402.4,324.5) rotate(-90)" font-size="12.6" fill="#2e2e2e" text-anchor="middle" textLength="93.4" lengthAdjust="spacingAndGlyphs" >Average voltage</text>
<text transform="translate(420.3,327.3) rotate(-90)" font-size="12.6" fill="#2e2e2e" text-anchor="middle" textLength="76.6" lengthAdjust="spacingAndGlyphs">(V Vs. Li<tspan dy="-4" font-size="8">+</tspan><tspan dy="4">/Li)</tspan></text>
<rect x="601.4" y="256.3" width="19.1" height="9.5" fill="url(#gPurB)" stroke="#333" stroke-width="0.9"/>
<rect x="601.4" y="271.7" width="19.1" height="9.5" fill="url(#gYelB)" stroke="#333" stroke-width="0.9"/>
<text x="624.4" y="264.7" font-size="11.2" fill="#555" textLength="33.1" lengthAdjust="spacingAndGlyphs" >NMPR</text>
<text x="624.4" y="279.2" font-size="11.2" fill="#555" textLength="47.1" lengthAdjust="spacingAndGlyphs" >NMCD-2</text>
<path d="M447.4 412.4V530.8H688.5" fill="none" stroke="#333" stroke-width="1.1"/>
<path d="M444.2 418L447.4 412.2L450.59999999999997 418" fill="none" stroke="#333" stroke-width="1"/>
<path d="M684 527.5L689.8 530.8L684 534.0999999999999" fill="none" stroke="#333" stroke-width="1"/>
<text x="442.4" y="534.9" font-size="11.6" fill="#555" text-anchor="end">50</text>
<text x="442.4" y="494.6" font-size="11.6" fill="#555" text-anchor="end">100</text>
<text x="442.4" y="454.3" font-size="11.6" fill="#555" text-anchor="end">150</text>
<text x="442.4" y="414.0" font-size="11.6" fill="#555" text-anchor="end">200</text>
<text x="447.4" y="544.8" font-size="11.6" fill="#555" text-anchor="middle">0</text>
<text x="507.8" y="544.8" font-size="11.6" fill="#555" text-anchor="middle">250</text>
<text x="568.2" y="544.8" font-size="11.6" fill="#555" text-anchor="middle">500</text>
<text x="628.6" y="544.8" font-size="11.6" fill="#555" text-anchor="middle">750</text>
<text x="692.0" y="544.8" font-size="11.6" fill="#555" text-anchor="middle">1000</text>
<path d="M447.4 530.8h3.5M447.4 490.5h3.5M447.4 450.2h3.5M447.4 530.8v-3.5M477.6 530.8v-2M507.8 530.8v-3.5M538.0 530.8v-2M568.2 530.8v-3.5M598.4 530.8v-2M628.6 530.8v-3.5M658.8 530.8v-2M689.0 530.8v-3.5" stroke="#333" stroke-width="0.9" fill="none"/>
<text x="529.0" y="557.7" font-size="13" fill="#2e2e2e" textLength="81.9" lengthAdjust="spacingAndGlyphs" >Cycle number</text>
<text transform="translate(401.8,468.0) rotate(-90)" font-size="12.6" fill="#2e2e2e" text-anchor="middle" textLength="98.4" lengthAdjust="spacingAndGlyphs" >Specific capacity</text>
<text transform="translate(419,470.3) rotate(-90)" font-size="12.6" fill="#2e2e2e" text-anchor="middle" textLength="60.8" lengthAdjust="spacingAndGlyphs">(mA h g<tspan dy="-4" font-size="8">-1</tspan><tspan dy="4">)</tspan></text>
<path d="M448.6 447.5C450 443,453 440.8,458 440.2C466 439.4,474 439.8,482 440.4C510 442.5,540 444.3,568 445.7C595 447,620 448.6,640.4 450.6C660 452.6,676 454.6,689 457.4" fill="none" stroke="#fff98c" stroke-width="3.8" stroke-linecap="round"/>
<path d="M448.6 482.3C465 485,490 489,510.2 491.1C530 493,550 493.8,568 494.6C595 496,620 497.4,640.4 498.4C660 499,676 499.3,689 499.6" fill="none" stroke="#c8b1dd" stroke-width="3.8" stroke-linecap="round"/>
<path d="M450.9 426H478.4" stroke="#fff98c" stroke-width="1.3"/><circle cx="464.6" cy="426" r="1.5" fill="#fff98c"/>
<path d="M537.7 426H566.6" stroke="#c8b1dd" stroke-width="1.3"/><circle cx="552.1" cy="426" r="1.5" fill="#c8b1dd"/>
<text x="481.9" y="430.4" font-size="11.6" fill="#555" textLength="49.1" lengthAdjust="spacingAndGlyphs" >NMCD-2</text>
<text x="570.4" y="430.4" font-size="11.6" fill="#555" textLength="33.8" lengthAdjust="spacingAndGlyphs" >NMPR</text>
<text x="639.0" y="445.7" font-size="12.2" fill="#333" textLength="36.1" lengthAdjust="spacingAndGlyphs" >91.3%</text>
<text x="639.0" y="492.6" font-size="12.2" fill="#333" textLength="39.9" lengthAdjust="spacingAndGlyphs" >80.4%</text>
<g transform="translate(670,310) scale(0.19231)">
<path d="M320.0 234.0C343.2 233.3,365.0 233.3,385.0 238.0C405.0 242.7,424.5 252.0,440.0 262.0C455.5 272.0,468.0 285.3,478.0 298.0C488.0 310.7,492.3 325.7,500.0 338.0C507.7 350.3,519.0 358.7,524.0 372.0C529.0 385.3,528.0 403.0,530.0 418.0C532.0 433.0,538.0 446.3,536.0 462.0C534.0 477.7,524.7 496.3,518.0 512.0C511.3 527.7,505.3 541.7,496.0 556.0C486.7 570.3,475.3 585.0,462.0 598.0C448.7 611.0,434.3 624.7,416.0 634.0C397.7 643.3,373.0 651.0,352.0 654.0C331.0 657.0,309.3 655.3,290.0 652.0C270.7 648.7,251.7 643.0,236.0 634.0C220.3 625.0,209.0 610.3,196.0 598.0C183.0 585.7,169.3 575.0,158.0 560.0C146.7 545.0,136.0 526.0,128.0 508.0C120.0 490.0,111.7 470.3,110.0 452.0C108.3 433.7,115.0 415.3,118.0 398.0C121.0 380.7,122.3 362.3,128.0 348.0C133.7 333.7,142.3 325.0,152.0 312.0C161.7 299.0,170.3 281.7,186.0 270.0C201.7 258.3,223.7 248.0,246.0 242.0C268.3 236.0,296.8 234.7,320.0 234.0Z" fill="url(#gOrg)"/>
<g filter="url(#blur6)"><ellipse cx="175" cy="390" rx="22" ry="42" fill="#f4b27c" fill-opacity="0.7" transform="rotate(22 175 390)"/><ellipse cx="245" cy="560" rx="48" ry="20" fill="#f4b27c" fill-opacity="0.65" transform="rotate(25 245 560)"/><ellipse cx="385" cy="592" rx="52" ry="18" fill="#f4b27c" fill-opacity="0.65" transform="rotate(-14 385 592)"/><ellipse cx="490" cy="500" rx="18" ry="40" fill="#f2ac74" fill-opacity="0.6" transform="rotate(20 490 500)"/><ellipse cx="215" cy="300" rx="30" ry="16" fill="#f4b27c" fill-opacity="0.6" transform="rotate(-38 215 300)"/><ellipse cx="310" cy="628" rx="55" ry="12" fill="#c96f2c" fill-opacity="0.55"/><ellipse cx="140" cy="470" rx="14" ry="40" fill="#cb7230" fill-opacity="0.55"/><ellipse cx="450" cy="560" rx="34" ry="12" fill="#cb7230" fill-opacity="0.5" transform="rotate(-40 450 560)"/><ellipse cx="505" cy="400" rx="12" ry="34" fill="#cb7230" fill-opacity="0.45"/><ellipse cx="320" cy="540" rx="60" ry="12" fill="#d07a38" fill-opacity="0.4" transform="rotate(8 320 540)"/></g>
<path d="M320 248C380 262,460 350,482 452C400 470,300 485,214 497C212 410,240 300,320 248Z" fill="#eea060" stroke="#eea060" stroke-width="10" stroke-linejoin="round" filter="url(#blur6)"/>
<g filter="url(#blur5)">
<path d="M320 250C262 290,222 390,216 495L320 440Z" fill="url(#gCoreL)"/>
<path d="M320 250C385 268,458 352,480 452L320 440Z" fill="url(#gCoreR)"/>
<path d="M216 495L320 440L480 452C400 468,300 484,216 495Z" fill="#7668c2"/>
<path d="M320 252V440L218 494M320 440L478 452" fill="none" stroke="#4f47b4" stroke-opacity="0.5" stroke-width="5"/>
</g>
</g>
<text x="682.5" y="344.2" font-size="11.6" fill="#333" textLength="89.4" lengthAdjust="spacingAndGlyphs" >NaF-rich surface</text>
<path d="M719 370.6L711.2 353.4" stroke="#3a6cc8" stroke-width="1.9"/><path d="M709.2 348.6L707.6 356.8L715.2 353.4Z" fill="#3a6cc8"/>
<text x="714.6" y="448.8" font-size="12" fill="#333" textLength="38.1" lengthAdjust="spacingAndGlyphs" >NMCD</text>
</svg>
</body></html>
